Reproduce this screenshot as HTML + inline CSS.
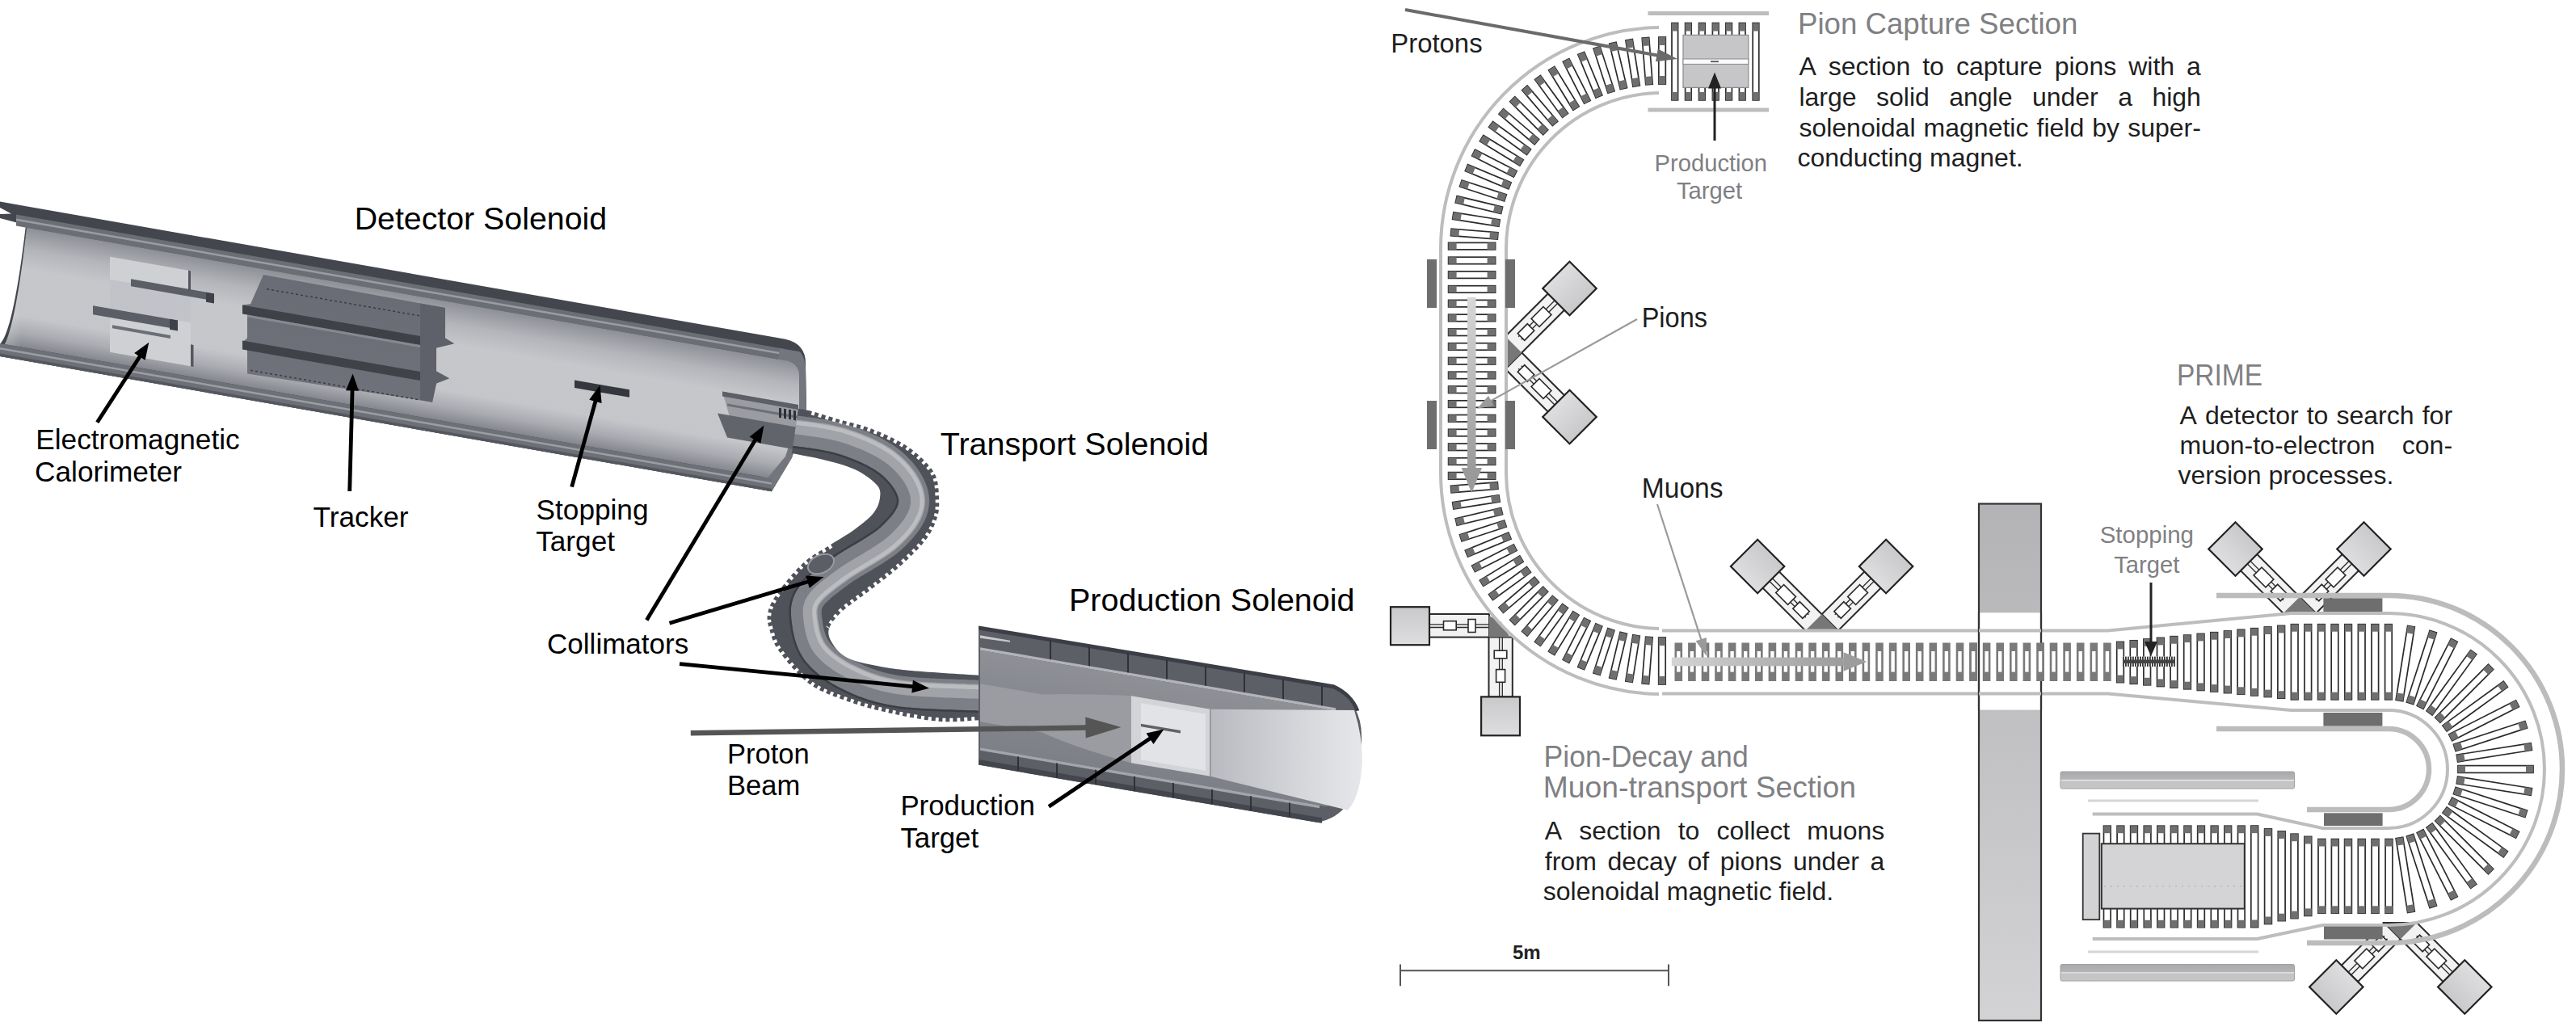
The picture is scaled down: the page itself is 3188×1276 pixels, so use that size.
<!DOCTYPE html>
<html><head><meta charset="utf-8"><style>
html,body{margin:0;padding:0;background:#fff;}
body{width:3188px;height:1276px;overflow:hidden;}
svg{display:block;font-family:"Liberation Sans",sans-serif;}
</style></head><body>
<svg width="3188" height="1276" viewBox="0 0 3188 1276">
<defs>
<linearGradient id="dia" x1="0" y1="0" x2="0" y2="1"><stop offset="0" stop-color="#c9c9cb"/><stop offset="1" stop-color="#dedee0"/></linearGradient>
<linearGradient id="col" gradientUnits="userSpaceOnUse" x1="0" y1="623" x2="0" y2="1263"><stop offset="0" stop-color="#b3b3b5"/><stop offset="1" stop-color="#d3d3d5"/></linearGradient>
<linearGradient id="parr" x1="0" y1="0" x2="0" y2="1"><stop offset="0" stop-color="#d8d8d8"/><stop offset="1" stop-color="#9a9a9a"/></linearGradient>
<linearGradient id="marr" x1="0" y1="0" x2="1" y2="0"><stop offset="0" stop-color="#d4d4d4"/><stop offset="1" stop-color="#9c9c9c"/></linearGradient>
<linearGradient id="bar" x1="0" y1="0" x2="0" y2="1"><stop offset="0" stop-color="#a9a9ab"/><stop offset="0.45" stop-color="#b5b5b7"/><stop offset="0.5" stop-color="#e8e8e8"/><stop offset="0.58" stop-color="#c3c3c5"/><stop offset="1" stop-color="#c6c6c8"/></linearGradient>

<linearGradient id="dsIn" x1="0" y1="0" x2="0" y2="1"><stop offset="0" stop-color="#8e9097"/><stop offset="0.18" stop-color="#b4b5ba"/><stop offset="0.35" stop-color="#c6c7cb"/><stop offset="0.74" stop-color="#c5c6ca"/><stop offset="0.88" stop-color="#aaabb1"/><stop offset="1" stop-color="#85878e"/></linearGradient>
<linearGradient id="dsL" x1="0" y1="0" x2="1" y2="0"><stop offset="0" stop-color="#ffffff" stop-opacity="0.25"/><stop offset="0.15" stop-color="#ffffff" stop-opacity="0"/><stop offset="1" stop-color="#ffffff" stop-opacity="0"/></linearGradient>
<linearGradient id="trk" x1="0" y1="0" x2="0" y2="1"><stop offset="0" stop-color="#6a6c75"/><stop offset="1" stop-color="#70727b"/></linearGradient>
<linearGradient id="psCone" x1="0" y1="0" x2="1" y2="0"><stop offset="0" stop-color="#b9babf"/><stop offset="0.6" stop-color="#d6d7db"/><stop offset="1" stop-color="#e6e7ea"/></linearGradient>
<linearGradient id="psIn" x1="0" y1="0" x2="0" y2="1"><stop offset="0" stop-color="#8e9096"/><stop offset="0.5" stop-color="#85878e"/><stop offset="1" stop-color="#7e8087"/></linearGradient>

<clipPath id="tsClip"><path d="M988,506 C990.8,506.5 996.7,506.8 1005,509 C1013.3,511.2 1026,515.5 1038,519 C1050,522.5 1064,525.2 1077,530 C1090,534.8 1105.3,541.8 1116,548 C1126.7,554.2 1134,560.2 1141,567 C1148,573.8 1154.5,580.8 1158,589 C1161.5,597.2 1161.7,607.5 1162,616 C1162.3,624.5 1162.7,631.3 1160,640 C1157.3,648.7 1153.5,658 1146,668 C1138.5,678 1126.8,689.3 1115,700 C1103.2,710.7 1087.2,722.5 1075,732 C1062.8,741.5 1050.2,749.3 1042,757 C1033.8,764.7 1028,771.5 1026,778 C1024,784.5 1026.3,790 1030,796 C1033.7,802 1038.8,809.3 1048,814 C1057.2,818.7 1071.7,821.3 1085,824 C1098.3,826.7 1106.3,828 1128,830 C1149.7,832 1200.5,835 1215,836 L1215,891 C1206.5,891.3 1182.7,894.3 1164,893 C1145.3,891.7 1122.7,887.3 1103,883 C1083.3,878.7 1063,873.2 1046,867 C1029,860.8 1014.7,856.2 1001,846 C987.3,835.8 972.2,817.3 964,806 C955.8,794.7 954.3,785.7 952,778 C949.7,770.3 949,766.3 950,760 C951,753.7 952.8,748.3 958,740 C963.2,731.7 973.7,718.3 981,710 C988.3,701.7 994.2,696 1002,690 C1009.8,684 1018.7,679.8 1028,674 C1037.3,668.2 1049.2,661.5 1058,655 C1066.8,648.5 1075.8,641.5 1081,635 C1086.2,628.5 1088.3,621.8 1089,616 C1089.7,610.2 1090.2,605.8 1085,600 C1079.8,594.2 1069,586.2 1058,581 C1047,575.8 1032,572.3 1019,569 C1006,565.7 986.5,562.3 980,561 Z"/></clipPath></defs>
<g transform="translate(2254.6 780.5) rotate(0)"><polygon points="20.3,0 -20.3,0 59.7,-80 100.3,-80" fill="#f2f2f2" stroke="#2b2b2b" stroke-width="2"/><line x1="16.2" y1="-19.8" x2="68.2" y2="-71.8" stroke="#2b2b2b" stroke-width="1.3"/><line x1="19.8" y1="-16.2" x2="71.8" y2="-68.2" stroke="#2b2b2b" stroke-width="1.3"/><rect x="17" y="-31.5" width="17" height="12" fill="#fff" stroke="#2b2b2b" stroke-width="1.6" transform="rotate(-45 25.5 -25.5)"/><rect x="34" y="-51.5" width="21" height="14" fill="#fff" stroke="#2b2b2b" stroke-width="1.6" transform="rotate(-45 44.5 -44.5)"/><polygon points="-20.3,0 20.3,0 -59.7,-80 -100.3,-80" fill="#f2f2f2" stroke="#2b2b2b" stroke-width="2"/><line x1="-19.8" y1="-16.2" x2="-71.8" y2="-68.2" stroke="#2b2b2b" stroke-width="1.3"/><line x1="-16.2" y1="-19.8" x2="-68.2" y2="-71.8" stroke="#2b2b2b" stroke-width="1.3"/><rect x="-34" y="-31.5" width="17" height="12" fill="#fff" stroke="#2b2b2b" stroke-width="1.6" transform="rotate(45 -25.5 -25.5)"/><rect x="-55" y="-51.5" width="21" height="14" fill="#fff" stroke="#2b2b2b" stroke-width="1.6" transform="rotate(45 -44.5 -44.5)"/><polygon points="-20.3,0 20.3,0 0,-20.3" fill="#777"/><line x1="-20.3" y1="0" x2="20.3" y2="0" stroke="#2b2b2b" stroke-width="2"/><rect x="56" y="-103" width="47" height="47" fill="url(#dia)" stroke="#222" stroke-width="2.2" transform="rotate(45 79.5 -79.5)"/><rect x="-103" y="-103" width="47" height="47" fill="url(#dia)" stroke="#222" stroke-width="2.2" transform="rotate(45 -79.5 -79.5)"/></g>
<g transform="translate(2846 759) rotate(0)"><polygon points="20.3,0 -20.3,0 59.7,-80 100.3,-80" fill="#f2f2f2" stroke="#2b2b2b" stroke-width="2"/><line x1="16.2" y1="-19.8" x2="68.2" y2="-71.8" stroke="#2b2b2b" stroke-width="1.3"/><line x1="19.8" y1="-16.2" x2="71.8" y2="-68.2" stroke="#2b2b2b" stroke-width="1.3"/><rect x="17" y="-31.5" width="17" height="12" fill="#fff" stroke="#2b2b2b" stroke-width="1.6" transform="rotate(-45 25.5 -25.5)"/><rect x="34" y="-51.5" width="21" height="14" fill="#fff" stroke="#2b2b2b" stroke-width="1.6" transform="rotate(-45 44.5 -44.5)"/><polygon points="-20.3,0 20.3,0 -59.7,-80 -100.3,-80" fill="#f2f2f2" stroke="#2b2b2b" stroke-width="2"/><line x1="-19.8" y1="-16.2" x2="-71.8" y2="-68.2" stroke="#2b2b2b" stroke-width="1.3"/><line x1="-16.2" y1="-19.8" x2="-68.2" y2="-71.8" stroke="#2b2b2b" stroke-width="1.3"/><rect x="-34" y="-31.5" width="17" height="12" fill="#fff" stroke="#2b2b2b" stroke-width="1.6" transform="rotate(45 -25.5 -25.5)"/><rect x="-55" y="-51.5" width="21" height="14" fill="#fff" stroke="#2b2b2b" stroke-width="1.6" transform="rotate(45 -44.5 -44.5)"/><polygon points="-20.3,0 20.3,0 0,-20.3" fill="#777"/><line x1="-20.3" y1="0" x2="20.3" y2="0" stroke="#2b2b2b" stroke-width="2"/><rect x="56" y="-103" width="47" height="47" fill="url(#dia)" stroke="#222" stroke-width="2.2" transform="rotate(45 79.5 -79.5)"/><rect x="-103" y="-103" width="47" height="47" fill="url(#dia)" stroke="#222" stroke-width="2.2" transform="rotate(45 -79.5 -79.5)"/></g>
<g transform="translate(2970.8 1142) rotate(180)"><polygon points="20.3,0 -20.3,0 59.7,-80 100.3,-80" fill="#f2f2f2" stroke="#2b2b2b" stroke-width="2"/><line x1="16.2" y1="-19.8" x2="68.2" y2="-71.8" stroke="#2b2b2b" stroke-width="1.3"/><line x1="19.8" y1="-16.2" x2="71.8" y2="-68.2" stroke="#2b2b2b" stroke-width="1.3"/><rect x="17" y="-31.5" width="17" height="12" fill="#fff" stroke="#2b2b2b" stroke-width="1.6" transform="rotate(-45 25.5 -25.5)"/><rect x="34" y="-51.5" width="21" height="14" fill="#fff" stroke="#2b2b2b" stroke-width="1.6" transform="rotate(-45 44.5 -44.5)"/><polygon points="-20.3,0 20.3,0 -59.7,-80 -100.3,-80" fill="#f2f2f2" stroke="#2b2b2b" stroke-width="2"/><line x1="-19.8" y1="-16.2" x2="-71.8" y2="-68.2" stroke="#2b2b2b" stroke-width="1.3"/><line x1="-16.2" y1="-19.8" x2="-68.2" y2="-71.8" stroke="#2b2b2b" stroke-width="1.3"/><rect x="-34" y="-31.5" width="17" height="12" fill="#fff" stroke="#2b2b2b" stroke-width="1.6" transform="rotate(45 -25.5 -25.5)"/><rect x="-55" y="-51.5" width="21" height="14" fill="#fff" stroke="#2b2b2b" stroke-width="1.6" transform="rotate(45 -44.5 -44.5)"/><polygon points="-20.3,0 20.3,0 0,-20.3" fill="#777"/><line x1="-20.3" y1="0" x2="20.3" y2="0" stroke="#2b2b2b" stroke-width="2"/><rect x="56" y="-103" width="47" height="47" fill="url(#dia)" stroke="#222" stroke-width="2.2" transform="rotate(45 79.5 -79.5)"/><rect x="-103" y="-103" width="47" height="47" fill="url(#dia)" stroke="#222" stroke-width="2.2" transform="rotate(45 -79.5 -79.5)"/></g>
<g transform="translate(1863 436.5) rotate(90)"><polygon points="20.3,0 -20.3,0 59.7,-80 100.3,-80" fill="#f2f2f2" stroke="#2b2b2b" stroke-width="2"/><line x1="16.2" y1="-19.8" x2="68.2" y2="-71.8" stroke="#2b2b2b" stroke-width="1.3"/><line x1="19.8" y1="-16.2" x2="71.8" y2="-68.2" stroke="#2b2b2b" stroke-width="1.3"/><rect x="17" y="-31.5" width="17" height="12" fill="#fff" stroke="#2b2b2b" stroke-width="1.6" transform="rotate(-45 25.5 -25.5)"/><rect x="34" y="-51.5" width="21" height="14" fill="#fff" stroke="#2b2b2b" stroke-width="1.6" transform="rotate(-45 44.5 -44.5)"/><polygon points="-20.3,0 20.3,0 -59.7,-80 -100.3,-80" fill="#f2f2f2" stroke="#2b2b2b" stroke-width="2"/><line x1="-19.8" y1="-16.2" x2="-71.8" y2="-68.2" stroke="#2b2b2b" stroke-width="1.3"/><line x1="-16.2" y1="-19.8" x2="-68.2" y2="-71.8" stroke="#2b2b2b" stroke-width="1.3"/><rect x="-34" y="-31.5" width="17" height="12" fill="#fff" stroke="#2b2b2b" stroke-width="1.6" transform="rotate(45 -25.5 -25.5)"/><rect x="-55" y="-51.5" width="21" height="14" fill="#fff" stroke="#2b2b2b" stroke-width="1.6" transform="rotate(45 -44.5 -44.5)"/><polygon points="-20.3,0 20.3,0 0,-20.3" fill="#777"/><line x1="-20.3" y1="0" x2="20.3" y2="0" stroke="#2b2b2b" stroke-width="2"/><rect x="56" y="-103" width="47" height="47" fill="url(#dia)" stroke="#222" stroke-width="2.2" transform="rotate(45 79.5 -79.5)"/><rect x="-103" y="-103" width="47" height="47" fill="url(#dia)" stroke="#222" stroke-width="2.2" transform="rotate(45 -79.5 -79.5)"/></g>
<rect x="1769" y="760" width="74" height="28.6" fill="#f2f2f2" stroke="#2b2b2b" stroke-width="2"/>
<rect x="1842.5" y="788.6" width="29.3" height="74" fill="#f2f2f2" stroke="#2b2b2b" stroke-width="2"/>
<line x1="1769" y1="772.8" x2="1843" y2="772.8" stroke="#2b2b2b" stroke-width="1.3"/><line x1="1769" y1="776.5" x2="1843" y2="776.5" stroke="#2b2b2b" stroke-width="1.3"/>
<line x1="1855.6" y1="788.6" x2="1855.6" y2="862.6" stroke="#2b2b2b" stroke-width="1.3"/><line x1="1859.3" y1="788.6" x2="1859.3" y2="862.6" stroke="#2b2b2b" stroke-width="1.3"/>
<rect x="1786.5" y="768.7" width="15.7" height="11.1" fill="#fff" stroke="#2b2b2b" stroke-width="1.6"/>
<rect x="1817" y="766.5" width="9" height="16" fill="#fff" stroke="#2b2b2b" stroke-width="1.6"/>
<rect x="1849.2" y="805.2" width="15.6" height="9.6" fill="#fff" stroke="#2b2b2b" stroke-width="1.6"/>
<rect x="1851.6" y="828.6" width="11" height="15.7" fill="#fff" stroke="#2b2b2b" stroke-width="1.6"/>
<polygon points="1842.7,762 1858,770 1868.5,788.6 1842.7,788.6" fill="#777"/>
<rect x="1721" y="751.2" width="48" height="47" fill="url(#dia)" stroke="#222" stroke-width="2.2"/>
<rect x="1833.1" y="862.4" width="47.9" height="47.9" fill="url(#dia)" stroke="#222" stroke-width="2.2"/>
<path d="M2053,34 A274,274 0 0 0 1783,308 L1783,585 A274,274 0 0 0 2053,859" fill="none" stroke="#bdbdbd" stroke-width="4"/>
<path d="M2053,115 A193,193 0 0 0 1864,308 L1864,585 A193,193 0 0 0 2053,778" fill="none" stroke="#bdbdbd" stroke-width="4"/>
<path d="M2057,780.5 L2608.5,780.5 L2835.5,759 L2956,759 A193,193 0 0 1 2956,1145 L2874.3,1145 L2793.7,1161.9 L2589.7,1161.9" fill="none" stroke="#bdbdbd" stroke-width="4"/>
<path d="M2057,858.5 L2608.5,858.5 L2835.5,879 L2956,879 A73,73 0 0 1 2956,1025 L2874.3,1025 L2793.7,1007.6 L2589.7,1007.6" fill="none" stroke="#bdbdbd" stroke-width="4"/>
<path d="M2743,737 L2956,737 A215,215 0 0 1 2956,1167 L2855,1167" fill="none" stroke="#bcbcbc" stroke-width="6.5"/>
<path d="M2743,902 L2956,902 A50,50 0 0 1 2956,1002 L2855,1002" fill="none" stroke="#bcbcbc" stroke-width="6.5"/>
<line x1="2039.5" y1="16.5" x2="2189" y2="16.5" stroke="#bdbdbd" stroke-width="5"/>
<line x1="2039.5" y1="136" x2="2189" y2="136" stroke="#bdbdbd" stroke-width="5"/>
<line x1="2584" y1="991" x2="2795" y2="991" stroke="#d6d6d6" stroke-width="3"/>
<line x1="2584" y1="1178" x2="2795" y2="1178" stroke="#d6d6d6" stroke-width="3"/>
<rect x="2550" y="955" width="289.5" height="21" rx="2" fill="url(#bar)" stroke="#a0a0a0" stroke-width="1"/>
<rect x="2550" y="1193.5" width="289.5" height="20.5" rx="2" fill="url(#bar)" stroke="#a0a0a0" stroke-width="1"/>
<rect x="1766" y="321" width="12" height="60" fill="#6e6e6e"/>
<rect x="1766" y="496" width="12" height="60" fill="#6e6e6e"/>
<rect x="1863" y="321" width="12" height="60" fill="#6e6e6e"/>
<rect x="1863" y="496" width="12" height="60" fill="#6e6e6e"/>
<rect x="2875.4" y="740.4" width="73" height="16.6" fill="#6e6e6e"/>
<rect x="2875.4" y="882" width="73" height="16.6" fill="#6e6e6e"/>
<rect x="2876" y="1006.3" width="72.6" height="15.7" fill="#6e6e6e"/>
<rect x="2876" y="1146.7" width="72.6" height="15.8" fill="#6e6e6e"/>
<g transform="translate(2057 75) rotate(-90)"><rect x="-29" y="-4.2" width="58" height="8.5" fill="#fff" stroke="#2b2b2b" stroke-width="1.7"/><rect x="-29" y="-4.2" width="10" height="8.5" fill="#6f6f6f"/><rect x="19" y="-4.2" width="10" height="8.5" fill="#6f6f6f"/></g>
<g transform="translate(2038.7 75.7) rotate(-94.5)"><rect x="-29" y="-4.2" width="58" height="8.5" fill="#fff" stroke="#2b2b2b" stroke-width="1.7"/><rect x="-29" y="-4.2" width="10" height="8.5" fill="#6f6f6f"/><rect x="19" y="-4.2" width="10" height="8.5" fill="#6f6f6f"/></g>
<g transform="translate(2020.6 77.9) rotate(-99)"><rect x="-29" y="-4.2" width="58" height="8.5" fill="#fff" stroke="#2b2b2b" stroke-width="1.7"/><rect x="-29" y="-4.2" width="10" height="8.5" fill="#6f6f6f"/><rect x="19" y="-4.2" width="10" height="8.5" fill="#6f6f6f"/></g>
<g transform="translate(2002.6 81.4) rotate(-103.5)"><rect x="-29" y="-4.2" width="58" height="8.5" fill="#fff" stroke="#2b2b2b" stroke-width="1.7"/><rect x="-29" y="-4.2" width="10" height="8.5" fill="#6f6f6f"/><rect x="19" y="-4.2" width="10" height="8.5" fill="#6f6f6f"/></g>
<g transform="translate(1985 86.4) rotate(-108)"><rect x="-29" y="-4.2" width="58" height="8.5" fill="#fff" stroke="#2b2b2b" stroke-width="1.7"/><rect x="-29" y="-4.2" width="10" height="8.5" fill="#6f6f6f"/><rect x="19" y="-4.2" width="10" height="8.5" fill="#6f6f6f"/></g>
<g transform="translate(1967.8 92.7) rotate(-112.5)"><rect x="-29" y="-4.2" width="58" height="8.5" fill="#fff" stroke="#2b2b2b" stroke-width="1.7"/><rect x="-29" y="-4.2" width="10" height="8.5" fill="#6f6f6f"/><rect x="19" y="-4.2" width="10" height="8.5" fill="#6f6f6f"/></g>
<g transform="translate(1951.2 100.4) rotate(-117)"><rect x="-29" y="-4.2" width="58" height="8.5" fill="#fff" stroke="#2b2b2b" stroke-width="1.7"/><rect x="-29" y="-4.2" width="10" height="8.5" fill="#6f6f6f"/><rect x="19" y="-4.2" width="10" height="8.5" fill="#6f6f6f"/></g>
<g transform="translate(1935.3 109.3) rotate(-121.5)"><rect x="-29" y="-4.2" width="58" height="8.5" fill="#fff" stroke="#2b2b2b" stroke-width="1.7"/><rect x="-29" y="-4.2" width="10" height="8.5" fill="#6f6f6f"/><rect x="19" y="-4.2" width="10" height="8.5" fill="#6f6f6f"/></g>
<g transform="translate(1920 119.5) rotate(-126)"><rect x="-29" y="-4.2" width="58" height="8.5" fill="#fff" stroke="#2b2b2b" stroke-width="1.7"/><rect x="-29" y="-4.2" width="10" height="8.5" fill="#6f6f6f"/><rect x="19" y="-4.2" width="10" height="8.5" fill="#6f6f6f"/></g>
<g transform="translate(1905.7 130.8) rotate(-130.5)"><rect x="-29" y="-4.2" width="58" height="8.5" fill="#fff" stroke="#2b2b2b" stroke-width="1.7"/><rect x="-29" y="-4.2" width="10" height="8.5" fill="#6f6f6f"/><rect x="19" y="-4.2" width="10" height="8.5" fill="#6f6f6f"/></g>
<g transform="translate(1892.2 143.2) rotate(-135)"><rect x="-29" y="-4.2" width="58" height="8.5" fill="#fff" stroke="#2b2b2b" stroke-width="1.7"/><rect x="-29" y="-4.2" width="10" height="8.5" fill="#6f6f6f"/><rect x="19" y="-4.2" width="10" height="8.5" fill="#6f6f6f"/></g>
<g transform="translate(1879.8 156.7) rotate(-139.5)"><rect x="-29" y="-4.2" width="58" height="8.5" fill="#fff" stroke="#2b2b2b" stroke-width="1.7"/><rect x="-29" y="-4.2" width="10" height="8.5" fill="#6f6f6f"/><rect x="19" y="-4.2" width="10" height="8.5" fill="#6f6f6f"/></g>
<g transform="translate(1868.5 171) rotate(-144)"><rect x="-29" y="-4.2" width="58" height="8.5" fill="#fff" stroke="#2b2b2b" stroke-width="1.7"/><rect x="-29" y="-4.2" width="10" height="8.5" fill="#6f6f6f"/><rect x="19" y="-4.2" width="10" height="8.5" fill="#6f6f6f"/></g>
<g transform="translate(1858.3 186.3) rotate(-148.5)"><rect x="-29" y="-4.2" width="58" height="8.5" fill="#fff" stroke="#2b2b2b" stroke-width="1.7"/><rect x="-29" y="-4.2" width="10" height="8.5" fill="#6f6f6f"/><rect x="19" y="-4.2" width="10" height="8.5" fill="#6f6f6f"/></g>
<g transform="translate(1849.4 202.2) rotate(-153)"><rect x="-29" y="-4.2" width="58" height="8.5" fill="#fff" stroke="#2b2b2b" stroke-width="1.7"/><rect x="-29" y="-4.2" width="10" height="8.5" fill="#6f6f6f"/><rect x="19" y="-4.2" width="10" height="8.5" fill="#6f6f6f"/></g>
<g transform="translate(1841.7 218.8) rotate(-157.5)"><rect x="-29" y="-4.2" width="58" height="8.5" fill="#fff" stroke="#2b2b2b" stroke-width="1.7"/><rect x="-29" y="-4.2" width="10" height="8.5" fill="#6f6f6f"/><rect x="19" y="-4.2" width="10" height="8.5" fill="#6f6f6f"/></g>
<g transform="translate(1835.4 236) rotate(-162)"><rect x="-29" y="-4.2" width="58" height="8.5" fill="#fff" stroke="#2b2b2b" stroke-width="1.7"/><rect x="-29" y="-4.2" width="10" height="8.5" fill="#6f6f6f"/><rect x="19" y="-4.2" width="10" height="8.5" fill="#6f6f6f"/></g>
<g transform="translate(1830.4 253.6) rotate(-166.5)"><rect x="-29" y="-4.2" width="58" height="8.5" fill="#fff" stroke="#2b2b2b" stroke-width="1.7"/><rect x="-29" y="-4.2" width="10" height="8.5" fill="#6f6f6f"/><rect x="19" y="-4.2" width="10" height="8.5" fill="#6f6f6f"/></g>
<g transform="translate(1826.9 271.6) rotate(-171)"><rect x="-29" y="-4.2" width="58" height="8.5" fill="#fff" stroke="#2b2b2b" stroke-width="1.7"/><rect x="-29" y="-4.2" width="10" height="8.5" fill="#6f6f6f"/><rect x="19" y="-4.2" width="10" height="8.5" fill="#6f6f6f"/></g>
<g transform="translate(1824.7 289.7) rotate(-175.5)"><rect x="-29" y="-4.2" width="58" height="8.5" fill="#fff" stroke="#2b2b2b" stroke-width="1.7"/><rect x="-29" y="-4.2" width="10" height="8.5" fill="#6f6f6f"/><rect x="19" y="-4.2" width="10" height="8.5" fill="#6f6f6f"/></g>
<g transform="translate(1821.6 304.7) rotate(180)"><rect x="-29" y="-4.2" width="58" height="8.5" fill="#fff" stroke="#2b2b2b" stroke-width="1.7"/><rect x="-29" y="-4.2" width="10" height="8.5" fill="#6f6f6f"/><rect x="19" y="-4.2" width="10" height="8.5" fill="#6f6f6f"/></g>
<g transform="translate(1821.6 322.5) rotate(180)"><rect x="-29" y="-4.2" width="58" height="8.5" fill="#fff" stroke="#2b2b2b" stroke-width="1.7"/><rect x="-29" y="-4.2" width="10" height="8.5" fill="#6f6f6f"/><rect x="19" y="-4.2" width="10" height="8.5" fill="#6f6f6f"/></g>
<g transform="translate(1821.6 340.2) rotate(180)"><rect x="-29" y="-4.2" width="58" height="8.5" fill="#fff" stroke="#2b2b2b" stroke-width="1.7"/><rect x="-29" y="-4.2" width="10" height="8.5" fill="#6f6f6f"/><rect x="19" y="-4.2" width="10" height="8.5" fill="#6f6f6f"/></g>
<g transform="translate(1821.6 358) rotate(180)"><rect x="-29" y="-4.2" width="58" height="8.5" fill="#fff" stroke="#2b2b2b" stroke-width="1.7"/><rect x="-29" y="-4.2" width="10" height="8.5" fill="#6f6f6f"/><rect x="19" y="-4.2" width="10" height="8.5" fill="#6f6f6f"/></g>
<g transform="translate(1821.6 375.7) rotate(180)"><rect x="-29" y="-4.2" width="58" height="8.5" fill="#fff" stroke="#2b2b2b" stroke-width="1.7"/><rect x="-29" y="-4.2" width="10" height="8.5" fill="#6f6f6f"/><rect x="19" y="-4.2" width="10" height="8.5" fill="#6f6f6f"/></g>
<g transform="translate(1821.6 393.5) rotate(180)"><rect x="-29" y="-4.2" width="58" height="8.5" fill="#fff" stroke="#2b2b2b" stroke-width="1.7"/><rect x="-29" y="-4.2" width="10" height="8.5" fill="#6f6f6f"/><rect x="19" y="-4.2" width="10" height="8.5" fill="#6f6f6f"/></g>
<g transform="translate(1821.6 411.3) rotate(180)"><rect x="-29" y="-4.2" width="58" height="8.5" fill="#fff" stroke="#2b2b2b" stroke-width="1.7"/><rect x="-29" y="-4.2" width="10" height="8.5" fill="#6f6f6f"/><rect x="19" y="-4.2" width="10" height="8.5" fill="#6f6f6f"/></g>
<g transform="translate(1821.6 429) rotate(180)"><rect x="-29" y="-4.2" width="58" height="8.5" fill="#fff" stroke="#2b2b2b" stroke-width="1.7"/><rect x="-29" y="-4.2" width="10" height="8.5" fill="#6f6f6f"/><rect x="19" y="-4.2" width="10" height="8.5" fill="#6f6f6f"/></g>
<g transform="translate(1821.6 446.8) rotate(180)"><rect x="-29" y="-4.2" width="58" height="8.5" fill="#fff" stroke="#2b2b2b" stroke-width="1.7"/><rect x="-29" y="-4.2" width="10" height="8.5" fill="#6f6f6f"/><rect x="19" y="-4.2" width="10" height="8.5" fill="#6f6f6f"/></g>
<g transform="translate(1821.6 464.5) rotate(180)"><rect x="-29" y="-4.2" width="58" height="8.5" fill="#fff" stroke="#2b2b2b" stroke-width="1.7"/><rect x="-29" y="-4.2" width="10" height="8.5" fill="#6f6f6f"/><rect x="19" y="-4.2" width="10" height="8.5" fill="#6f6f6f"/></g>
<g transform="translate(1821.6 482.3) rotate(180)"><rect x="-29" y="-4.2" width="58" height="8.5" fill="#fff" stroke="#2b2b2b" stroke-width="1.7"/><rect x="-29" y="-4.2" width="10" height="8.5" fill="#6f6f6f"/><rect x="19" y="-4.2" width="10" height="8.5" fill="#6f6f6f"/></g>
<g transform="translate(1821.6 500.1) rotate(180)"><rect x="-29" y="-4.2" width="58" height="8.5" fill="#fff" stroke="#2b2b2b" stroke-width="1.7"/><rect x="-29" y="-4.2" width="10" height="8.5" fill="#6f6f6f"/><rect x="19" y="-4.2" width="10" height="8.5" fill="#6f6f6f"/></g>
<g transform="translate(1821.6 517.8) rotate(180)"><rect x="-29" y="-4.2" width="58" height="8.5" fill="#fff" stroke="#2b2b2b" stroke-width="1.7"/><rect x="-29" y="-4.2" width="10" height="8.5" fill="#6f6f6f"/><rect x="19" y="-4.2" width="10" height="8.5" fill="#6f6f6f"/></g>
<g transform="translate(1821.6 535.6) rotate(180)"><rect x="-29" y="-4.2" width="58" height="8.5" fill="#fff" stroke="#2b2b2b" stroke-width="1.7"/><rect x="-29" y="-4.2" width="10" height="8.5" fill="#6f6f6f"/><rect x="19" y="-4.2" width="10" height="8.5" fill="#6f6f6f"/></g>
<g transform="translate(1821.6 553.3) rotate(180)"><rect x="-29" y="-4.2" width="58" height="8.5" fill="#fff" stroke="#2b2b2b" stroke-width="1.7"/><rect x="-29" y="-4.2" width="10" height="8.5" fill="#6f6f6f"/><rect x="19" y="-4.2" width="10" height="8.5" fill="#6f6f6f"/></g>
<g transform="translate(1821.6 571.1) rotate(180)"><rect x="-29" y="-4.2" width="58" height="8.5" fill="#fff" stroke="#2b2b2b" stroke-width="1.7"/><rect x="-29" y="-4.2" width="10" height="8.5" fill="#6f6f6f"/><rect x="19" y="-4.2" width="10" height="8.5" fill="#6f6f6f"/></g>
<g transform="translate(1821.6 588.9) rotate(180)"><rect x="-29" y="-4.2" width="58" height="8.5" fill="#fff" stroke="#2b2b2b" stroke-width="1.7"/><rect x="-29" y="-4.2" width="10" height="8.5" fill="#6f6f6f"/><rect x="19" y="-4.2" width="10" height="8.5" fill="#6f6f6f"/></g>
<g transform="translate(1824.7 603.3) rotate(175.5)"><rect x="-29" y="-4.2" width="58" height="8.5" fill="#fff" stroke="#2b2b2b" stroke-width="1.7"/><rect x="-29" y="-4.2" width="10" height="8.5" fill="#6f6f6f"/><rect x="19" y="-4.2" width="10" height="8.5" fill="#6f6f6f"/></g>
<g transform="translate(1826.9 621.4) rotate(171)"><rect x="-29" y="-4.2" width="58" height="8.5" fill="#fff" stroke="#2b2b2b" stroke-width="1.7"/><rect x="-29" y="-4.2" width="10" height="8.5" fill="#6f6f6f"/><rect x="19" y="-4.2" width="10" height="8.5" fill="#6f6f6f"/></g>
<g transform="translate(1830.4 639.4) rotate(166.5)"><rect x="-29" y="-4.2" width="58" height="8.5" fill="#fff" stroke="#2b2b2b" stroke-width="1.7"/><rect x="-29" y="-4.2" width="10" height="8.5" fill="#6f6f6f"/><rect x="19" y="-4.2" width="10" height="8.5" fill="#6f6f6f"/></g>
<g transform="translate(1835.4 657) rotate(162)"><rect x="-29" y="-4.2" width="58" height="8.5" fill="#fff" stroke="#2b2b2b" stroke-width="1.7"/><rect x="-29" y="-4.2" width="10" height="8.5" fill="#6f6f6f"/><rect x="19" y="-4.2" width="10" height="8.5" fill="#6f6f6f"/></g>
<g transform="translate(1841.7 674.2) rotate(157.5)"><rect x="-29" y="-4.2" width="58" height="8.5" fill="#fff" stroke="#2b2b2b" stroke-width="1.7"/><rect x="-29" y="-4.2" width="10" height="8.5" fill="#6f6f6f"/><rect x="19" y="-4.2" width="10" height="8.5" fill="#6f6f6f"/></g>
<g transform="translate(1849.4 690.8) rotate(153)"><rect x="-29" y="-4.2" width="58" height="8.5" fill="#fff" stroke="#2b2b2b" stroke-width="1.7"/><rect x="-29" y="-4.2" width="10" height="8.5" fill="#6f6f6f"/><rect x="19" y="-4.2" width="10" height="8.5" fill="#6f6f6f"/></g>
<g transform="translate(1858.3 706.7) rotate(148.5)"><rect x="-29" y="-4.2" width="58" height="8.5" fill="#fff" stroke="#2b2b2b" stroke-width="1.7"/><rect x="-29" y="-4.2" width="10" height="8.5" fill="#6f6f6f"/><rect x="19" y="-4.2" width="10" height="8.5" fill="#6f6f6f"/></g>
<g transform="translate(1868.5 722) rotate(144)"><rect x="-29" y="-4.2" width="58" height="8.5" fill="#fff" stroke="#2b2b2b" stroke-width="1.7"/><rect x="-29" y="-4.2" width="10" height="8.5" fill="#6f6f6f"/><rect x="19" y="-4.2" width="10" height="8.5" fill="#6f6f6f"/></g>
<g transform="translate(1879.8 736.3) rotate(139.5)"><rect x="-29" y="-4.2" width="58" height="8.5" fill="#fff" stroke="#2b2b2b" stroke-width="1.7"/><rect x="-29" y="-4.2" width="10" height="8.5" fill="#6f6f6f"/><rect x="19" y="-4.2" width="10" height="8.5" fill="#6f6f6f"/></g>
<g transform="translate(1892.2 749.8) rotate(135)"><rect x="-29" y="-4.2" width="58" height="8.5" fill="#fff" stroke="#2b2b2b" stroke-width="1.7"/><rect x="-29" y="-4.2" width="10" height="8.5" fill="#6f6f6f"/><rect x="19" y="-4.2" width="10" height="8.5" fill="#6f6f6f"/></g>
<g transform="translate(1905.7 762.2) rotate(130.5)"><rect x="-29" y="-4.2" width="58" height="8.5" fill="#fff" stroke="#2b2b2b" stroke-width="1.7"/><rect x="-29" y="-4.2" width="10" height="8.5" fill="#6f6f6f"/><rect x="19" y="-4.2" width="10" height="8.5" fill="#6f6f6f"/></g>
<g transform="translate(1920 773.5) rotate(126)"><rect x="-29" y="-4.2" width="58" height="8.5" fill="#fff" stroke="#2b2b2b" stroke-width="1.7"/><rect x="-29" y="-4.2" width="10" height="8.5" fill="#6f6f6f"/><rect x="19" y="-4.2" width="10" height="8.5" fill="#6f6f6f"/></g>
<g transform="translate(1935.3 783.7) rotate(121.5)"><rect x="-29" y="-4.2" width="58" height="8.5" fill="#fff" stroke="#2b2b2b" stroke-width="1.7"/><rect x="-29" y="-4.2" width="10" height="8.5" fill="#6f6f6f"/><rect x="19" y="-4.2" width="10" height="8.5" fill="#6f6f6f"/></g>
<g transform="translate(1951.2 792.6) rotate(117)"><rect x="-29" y="-4.2" width="58" height="8.5" fill="#fff" stroke="#2b2b2b" stroke-width="1.7"/><rect x="-29" y="-4.2" width="10" height="8.5" fill="#6f6f6f"/><rect x="19" y="-4.2" width="10" height="8.5" fill="#6f6f6f"/></g>
<g transform="translate(1967.8 800.3) rotate(112.5)"><rect x="-29" y="-4.2" width="58" height="8.5" fill="#fff" stroke="#2b2b2b" stroke-width="1.7"/><rect x="-29" y="-4.2" width="10" height="8.5" fill="#6f6f6f"/><rect x="19" y="-4.2" width="10" height="8.5" fill="#6f6f6f"/></g>
<g transform="translate(1985 806.6) rotate(108)"><rect x="-29" y="-4.2" width="58" height="8.5" fill="#fff" stroke="#2b2b2b" stroke-width="1.7"/><rect x="-29" y="-4.2" width="10" height="8.5" fill="#6f6f6f"/><rect x="19" y="-4.2" width="10" height="8.5" fill="#6f6f6f"/></g>
<g transform="translate(2002.6 811.6) rotate(103.5)"><rect x="-29" y="-4.2" width="58" height="8.5" fill="#fff" stroke="#2b2b2b" stroke-width="1.7"/><rect x="-29" y="-4.2" width="10" height="8.5" fill="#6f6f6f"/><rect x="19" y="-4.2" width="10" height="8.5" fill="#6f6f6f"/></g>
<g transform="translate(2020.6 815.1) rotate(99)"><rect x="-29" y="-4.2" width="58" height="8.5" fill="#fff" stroke="#2b2b2b" stroke-width="1.7"/><rect x="-29" y="-4.2" width="10" height="8.5" fill="#6f6f6f"/><rect x="19" y="-4.2" width="10" height="8.5" fill="#6f6f6f"/></g>
<g transform="translate(2038.7 817.3) rotate(94.5)"><rect x="-29" y="-4.2" width="58" height="8.5" fill="#fff" stroke="#2b2b2b" stroke-width="1.7"/><rect x="-29" y="-4.2" width="10" height="8.5" fill="#6f6f6f"/><rect x="19" y="-4.2" width="10" height="8.5" fill="#6f6f6f"/></g>
<g transform="translate(2057 818) rotate(90)"><rect x="-29" y="-4.2" width="58" height="8.5" fill="#fff" stroke="#2b2b2b" stroke-width="1.7"/><rect x="-29" y="-4.2" width="10" height="8.5" fill="#6f6f6f"/><rect x="19" y="-4.2" width="10" height="8.5" fill="#6f6f6f"/></g>
<g transform="translate(2072.8 76.2) rotate(90)"><rect x="-47.7" y="-3.8" width="95.4" height="7.6" fill="#fff" stroke="#2b2b2b" stroke-width="1.7"/><rect x="-47.7" y="-3.8" width="10" height="7.6" fill="#6f6f6f"/><rect x="37.7" y="-3.8" width="10" height="7.6" fill="#6f6f6f"/></g>
<g transform="translate(2089.4 76.2) rotate(90)"><rect x="-47.7" y="-3.8" width="95.4" height="7.6" fill="#fff" stroke="#2b2b2b" stroke-width="1.7"/><rect x="-47.7" y="-3.8" width="10" height="7.6" fill="#6f6f6f"/><rect x="37.7" y="-3.8" width="10" height="7.6" fill="#6f6f6f"/></g>
<g transform="translate(2106.3 76.2) rotate(90)"><rect x="-47.7" y="-3.8" width="95.4" height="7.6" fill="#fff" stroke="#2b2b2b" stroke-width="1.7"/><rect x="-47.7" y="-3.8" width="10" height="7.6" fill="#6f6f6f"/><rect x="37.7" y="-3.8" width="10" height="7.6" fill="#6f6f6f"/></g>
<g transform="translate(2123.2 76.2) rotate(90)"><rect x="-47.7" y="-3.8" width="95.4" height="7.6" fill="#fff" stroke="#2b2b2b" stroke-width="1.7"/><rect x="-47.7" y="-3.8" width="10" height="7.6" fill="#6f6f6f"/><rect x="37.7" y="-3.8" width="10" height="7.6" fill="#6f6f6f"/></g>
<g transform="translate(2139.6 76.2) rotate(90)"><rect x="-47.7" y="-3.8" width="95.4" height="7.6" fill="#fff" stroke="#2b2b2b" stroke-width="1.7"/><rect x="-47.7" y="-3.8" width="10" height="7.6" fill="#6f6f6f"/><rect x="37.7" y="-3.8" width="10" height="7.6" fill="#6f6f6f"/></g>
<g transform="translate(2156.2 76.2) rotate(90)"><rect x="-47.7" y="-3.8" width="95.4" height="7.6" fill="#fff" stroke="#2b2b2b" stroke-width="1.7"/><rect x="-47.7" y="-3.8" width="10" height="7.6" fill="#6f6f6f"/><rect x="37.7" y="-3.8" width="10" height="7.6" fill="#6f6f6f"/></g>
<g transform="translate(2173 76.2) rotate(90)"><rect x="-47.7" y="-3.8" width="95.4" height="7.6" fill="#fff" stroke="#2b2b2b" stroke-width="1.7"/><rect x="-47.7" y="-3.8" width="10" height="7.6" fill="#6f6f6f"/><rect x="37.7" y="-3.8" width="10" height="7.6" fill="#6f6f6f"/></g>
<rect x="2083" y="43.4" width="80.8" height="65" fill="#c6c6c8" stroke="#8a8a8a" stroke-width="1.2"/>
<rect x="2083" y="73" width="80.8" height="6.4" fill="#fafafa" stroke="#8a8a8a" stroke-width="1"/>
<rect x="2117" y="75.3" width="10" height="1.8" fill="#555"/>
<rect x="2072.5" y="795.5" width="9.6" height="47.5" fill="#7a7a7a"/>
<rect x="2075.1" y="806" width="4.4" height="25.6" fill="#fff"/>
<rect x="2089.1" y="795.5" width="9.6" height="47.5" fill="#7a7a7a"/>
<rect x="2091.7" y="806" width="4.4" height="25.6" fill="#fff"/>
<rect x="2105.7" y="795.5" width="9.6" height="47.5" fill="#7a7a7a"/>
<rect x="2108.3" y="806" width="4.4" height="25.6" fill="#fff"/>
<rect x="2122.2" y="795.5" width="9.6" height="47.5" fill="#7a7a7a"/>
<rect x="2124.8" y="806" width="4.4" height="25.6" fill="#fff"/>
<rect x="2138.8" y="795.5" width="9.6" height="47.5" fill="#7a7a7a"/>
<rect x="2141.4" y="806" width="4.4" height="25.6" fill="#fff"/>
<rect x="2155.4" y="795.5" width="9.6" height="47.5" fill="#7a7a7a"/>
<rect x="2158" y="806" width="4.4" height="25.6" fill="#fff"/>
<rect x="2172" y="795.5" width="9.6" height="47.5" fill="#7a7a7a"/>
<rect x="2174.6" y="806" width="4.4" height="25.6" fill="#fff"/>
<rect x="2188.6" y="795.5" width="9.6" height="47.5" fill="#7a7a7a"/>
<rect x="2191.2" y="806" width="4.4" height="25.6" fill="#fff"/>
<rect x="2205.1" y="795.5" width="9.6" height="47.5" fill="#7a7a7a"/>
<rect x="2207.7" y="806" width="4.4" height="25.6" fill="#fff"/>
<rect x="2221.7" y="795.5" width="9.6" height="47.5" fill="#7a7a7a"/>
<rect x="2224.3" y="806" width="4.4" height="25.6" fill="#fff"/>
<rect x="2238.3" y="795.5" width="9.6" height="47.5" fill="#7a7a7a"/>
<rect x="2240.9" y="806" width="4.4" height="25.6" fill="#fff"/>
<rect x="2254.9" y="795.5" width="9.6" height="47.5" fill="#7a7a7a"/>
<rect x="2257.5" y="806" width="4.4" height="25.6" fill="#fff"/>
<rect x="2271.5" y="795.5" width="9.6" height="47.5" fill="#7a7a7a"/>
<rect x="2274.1" y="806" width="4.4" height="25.6" fill="#fff"/>
<rect x="2288" y="795.5" width="9.6" height="47.5" fill="#7a7a7a"/>
<rect x="2290.6" y="806" width="4.4" height="25.6" fill="#fff"/>
<rect x="2304.6" y="795.5" width="9.6" height="47.5" fill="#7a7a7a"/>
<rect x="2307.2" y="806" width="4.4" height="25.6" fill="#fff"/>
<rect x="2321.2" y="795.5" width="9.6" height="47.5" fill="#7a7a7a"/>
<rect x="2323.8" y="806" width="4.4" height="25.6" fill="#fff"/>
<rect x="2337.8" y="795.5" width="9.6" height="47.5" fill="#7a7a7a"/>
<rect x="2340.4" y="806" width="4.4" height="25.6" fill="#fff"/>
<rect x="2354.4" y="795.5" width="9.6" height="47.5" fill="#7a7a7a"/>
<rect x="2357" y="806" width="4.4" height="25.6" fill="#fff"/>
<rect x="2370.9" y="795.5" width="9.6" height="47.5" fill="#7a7a7a"/>
<rect x="2373.5" y="806" width="4.4" height="25.6" fill="#fff"/>
<rect x="2387.5" y="795.5" width="9.6" height="47.5" fill="#7a7a7a"/>
<rect x="2390.1" y="806" width="4.4" height="25.6" fill="#fff"/>
<rect x="2404.1" y="795.5" width="9.6" height="47.5" fill="#7a7a7a"/>
<rect x="2406.7" y="806" width="4.4" height="25.6" fill="#fff"/>
<rect x="2420.7" y="795.5" width="9.6" height="47.5" fill="#7a7a7a"/>
<rect x="2423.3" y="806" width="4.4" height="25.6" fill="#fff"/>
<rect x="2437.3" y="795.5" width="9.6" height="47.5" fill="#7a7a7a"/>
<rect x="2439.9" y="806" width="4.4" height="25.6" fill="#fff"/>
<rect x="2453.8" y="795.5" width="9.6" height="47.5" fill="#7a7a7a"/>
<rect x="2456.4" y="806" width="4.4" height="25.6" fill="#fff"/>
<rect x="2470.4" y="795.5" width="9.6" height="47.5" fill="#7a7a7a"/>
<rect x="2473" y="806" width="4.4" height="25.6" fill="#fff"/>
<rect x="2487" y="795.5" width="9.6" height="47.5" fill="#7a7a7a"/>
<rect x="2489.6" y="806" width="4.4" height="25.6" fill="#fff"/>
<rect x="2503.6" y="795.5" width="9.6" height="47.5" fill="#7a7a7a"/>
<rect x="2506.2" y="806" width="4.4" height="25.6" fill="#fff"/>
<rect x="2520.2" y="795.5" width="9.6" height="47.5" fill="#7a7a7a"/>
<rect x="2522.8" y="806" width="4.4" height="25.6" fill="#fff"/>
<rect x="2536.7" y="795.5" width="9.6" height="47.5" fill="#7a7a7a"/>
<rect x="2539.3" y="806" width="4.4" height="25.6" fill="#fff"/>
<rect x="2553.3" y="795.5" width="9.6" height="47.5" fill="#7a7a7a"/>
<rect x="2555.9" y="806" width="4.4" height="25.6" fill="#fff"/>
<rect x="2569.9" y="795.5" width="9.6" height="47.5" fill="#7a7a7a"/>
<rect x="2572.5" y="806" width="4.4" height="25.6" fill="#fff"/>
<rect x="2586.5" y="795.5" width="9.6" height="47.5" fill="#7a7a7a"/>
<rect x="2589.1" y="806" width="4.4" height="25.6" fill="#fff"/>
<rect x="2603.1" y="795.5" width="9.6" height="47.5" fill="#7a7a7a"/>
<rect x="2605.7" y="806" width="4.4" height="25.6" fill="#fff"/>
<g transform="translate(2624 819.5) rotate(90)"><rect x="-25.1" y="-4.3" width="50.2" height="8.6" fill="#fff" stroke="#2b2b2b" stroke-width="1.7"/><rect x="-25.1" y="-4.3" width="9" height="8.6" fill="#6f6f6f"/><rect x="16.1" y="-4.3" width="9" height="8.6" fill="#6f6f6f"/></g>
<g transform="translate(2640.6 819.5) rotate(90)"><rect x="-26.7" y="-4.3" width="53.5" height="8.6" fill="#fff" stroke="#2b2b2b" stroke-width="1.7"/><rect x="-26.7" y="-4.3" width="9" height="8.6" fill="#6f6f6f"/><rect x="17.7" y="-4.3" width="9" height="8.6" fill="#6f6f6f"/></g>
<g transform="translate(2657.2 819.4) rotate(90)"><rect x="-28.4" y="-4.3" width="56.8" height="8.6" fill="#fff" stroke="#2b2b2b" stroke-width="1.7"/><rect x="-28.4" y="-4.3" width="9" height="8.6" fill="#6f6f6f"/><rect x="19.4" y="-4.3" width="9" height="8.6" fill="#6f6f6f"/></g>
<g transform="translate(2673.8 819.4) rotate(90)"><rect x="-30" y="-4.3" width="60.1" height="8.6" fill="#fff" stroke="#2b2b2b" stroke-width="1.7"/><rect x="-30" y="-4.3" width="9" height="8.6" fill="#6f6f6f"/><rect x="21" y="-4.3" width="9" height="8.6" fill="#6f6f6f"/></g>
<g transform="translate(2690.4 819.4) rotate(90)"><rect x="-31.7" y="-4.3" width="63.4" height="8.6" fill="#fff" stroke="#2b2b2b" stroke-width="1.7"/><rect x="-31.7" y="-4.3" width="9" height="8.6" fill="#6f6f6f"/><rect x="22.7" y="-4.3" width="9" height="8.6" fill="#6f6f6f"/></g>
<g transform="translate(2707 819.4) rotate(90)"><rect x="-33.3" y="-4.3" width="66.7" height="8.6" fill="#fff" stroke="#2b2b2b" stroke-width="1.7"/><rect x="-33.3" y="-4.3" width="9" height="8.6" fill="#6f6f6f"/><rect x="24.3" y="-4.3" width="9" height="8.6" fill="#6f6f6f"/></g>
<g transform="translate(2723.6 819.4) rotate(90)"><rect x="-35" y="-4.3" width="70" height="8.6" fill="#fff" stroke="#2b2b2b" stroke-width="1.7"/><rect x="-35" y="-4.3" width="9" height="8.6" fill="#6f6f6f"/><rect x="26" y="-4.3" width="9" height="8.6" fill="#6f6f6f"/></g>
<g transform="translate(2740.2 819.4) rotate(90)"><rect x="-36.7" y="-4.3" width="73.3" height="8.6" fill="#fff" stroke="#2b2b2b" stroke-width="1.7"/><rect x="-36.7" y="-4.3" width="9" height="8.6" fill="#6f6f6f"/><rect x="27.7" y="-4.3" width="9" height="8.6" fill="#6f6f6f"/></g>
<g transform="translate(2756.8 819.3) rotate(90)"><rect x="-38.3" y="-4.3" width="76.6" height="8.6" fill="#fff" stroke="#2b2b2b" stroke-width="1.7"/><rect x="-38.3" y="-4.3" width="9" height="8.6" fill="#6f6f6f"/><rect x="29.3" y="-4.3" width="9" height="8.6" fill="#6f6f6f"/></g>
<g transform="translate(2773.4 819.3) rotate(90)"><rect x="-40" y="-4.3" width="79.9" height="8.6" fill="#fff" stroke="#2b2b2b" stroke-width="1.7"/><rect x="-40" y="-4.3" width="9" height="8.6" fill="#6f6f6f"/><rect x="31" y="-4.3" width="9" height="8.6" fill="#6f6f6f"/></g>
<g transform="translate(2790 819.3) rotate(90)"><rect x="-41.6" y="-4.3" width="83.2" height="8.6" fill="#fff" stroke="#2b2b2b" stroke-width="1.7"/><rect x="-41.6" y="-4.3" width="9" height="8.6" fill="#6f6f6f"/><rect x="32.6" y="-4.3" width="9" height="8.6" fill="#6f6f6f"/></g>
<g transform="translate(2806.6 819.3) rotate(90)"><rect x="-43.3" y="-4.3" width="86.5" height="8.6" fill="#fff" stroke="#2b2b2b" stroke-width="1.7"/><rect x="-43.3" y="-4.3" width="9" height="8.6" fill="#6f6f6f"/><rect x="34.3" y="-4.3" width="9" height="8.6" fill="#6f6f6f"/></g>
<g transform="translate(2823.2 819.3) rotate(90)"><rect x="-44.9" y="-4.3" width="89.8" height="8.6" fill="#fff" stroke="#2b2b2b" stroke-width="1.7"/><rect x="-44.9" y="-4.3" width="9" height="8.6" fill="#6f6f6f"/><rect x="35.9" y="-4.3" width="9" height="8.6" fill="#6f6f6f"/></g>
<g transform="translate(2839.7 819.2) rotate(90)"><rect x="-46.5" y="-4.3" width="93.1" height="8.6" fill="#fff" stroke="#2b2b2b" stroke-width="1.7"/><rect x="-46.5" y="-4.3" width="9" height="8.6" fill="#6f6f6f"/><rect x="37.5" y="-4.3" width="9" height="8.6" fill="#6f6f6f"/></g>
<g transform="translate(2856.3 819.2) rotate(90)"><rect x="-46.5" y="-4.3" width="93.1" height="8.6" fill="#fff" stroke="#2b2b2b" stroke-width="1.7"/><rect x="-46.5" y="-4.3" width="9" height="8.6" fill="#6f6f6f"/><rect x="37.5" y="-4.3" width="9" height="8.6" fill="#6f6f6f"/></g>
<g transform="translate(2872.9 819.2) rotate(90)"><rect x="-46.5" y="-4.3" width="93.1" height="8.6" fill="#fff" stroke="#2b2b2b" stroke-width="1.7"/><rect x="-46.5" y="-4.3" width="9" height="8.6" fill="#6f6f6f"/><rect x="37.5" y="-4.3" width="9" height="8.6" fill="#6f6f6f"/></g>
<g transform="translate(2889.5 819.2) rotate(90)"><rect x="-46.5" y="-4.3" width="93.1" height="8.6" fill="#fff" stroke="#2b2b2b" stroke-width="1.7"/><rect x="-46.5" y="-4.3" width="9" height="8.6" fill="#6f6f6f"/><rect x="37.5" y="-4.3" width="9" height="8.6" fill="#6f6f6f"/></g>
<g transform="translate(2906.1 819.2) rotate(90)"><rect x="-46.5" y="-4.3" width="93.1" height="8.6" fill="#fff" stroke="#2b2b2b" stroke-width="1.7"/><rect x="-46.5" y="-4.3" width="9" height="8.6" fill="#6f6f6f"/><rect x="37.5" y="-4.3" width="9" height="8.6" fill="#6f6f6f"/></g>
<g transform="translate(2922.7 819.2) rotate(90)"><rect x="-46.5" y="-4.3" width="93.1" height="8.6" fill="#fff" stroke="#2b2b2b" stroke-width="1.7"/><rect x="-46.5" y="-4.3" width="9" height="8.6" fill="#6f6f6f"/><rect x="37.5" y="-4.3" width="9" height="8.6" fill="#6f6f6f"/></g>
<g transform="translate(2939.3 819.2) rotate(90)"><rect x="-46.5" y="-4.3" width="93.1" height="8.6" fill="#fff" stroke="#2b2b2b" stroke-width="1.7"/><rect x="-46.5" y="-4.3" width="9" height="8.6" fill="#6f6f6f"/><rect x="37.5" y="-4.3" width="9" height="8.6" fill="#6f6f6f"/></g>
<g transform="translate(2955.9 819.2) rotate(90)"><rect x="-46.5" y="-4.3" width="93.1" height="8.6" fill="#fff" stroke="#2b2b2b" stroke-width="1.7"/><rect x="-46.5" y="-4.3" width="9" height="8.6" fill="#6f6f6f"/><rect x="37.5" y="-4.3" width="9" height="8.6" fill="#6f6f6f"/></g>
<g transform="translate(2976.7 821.1) rotate(-81)"><rect x="-46.5" y="-4.4" width="93" height="8.8" fill="#fff" stroke="#2b2b2b" stroke-width="1.7"/><rect x="-46.5" y="-4.4" width="9" height="8.8" fill="#6f6f6f"/><rect x="37.5" y="-4.4" width="9" height="8.8" fill="#6f6f6f"/></g>
<g transform="translate(2996.9 826) rotate(-72)"><rect x="-46.5" y="-4.4" width="93" height="8.8" fill="#fff" stroke="#2b2b2b" stroke-width="1.7"/><rect x="-46.5" y="-4.4" width="9" height="8.8" fill="#6f6f6f"/><rect x="37.5" y="-4.4" width="9" height="8.8" fill="#6f6f6f"/></g>
<g transform="translate(3016.2 833.9) rotate(-63)"><rect x="-46.5" y="-4.4" width="93" height="8.8" fill="#fff" stroke="#2b2b2b" stroke-width="1.7"/><rect x="-46.5" y="-4.4" width="9" height="8.8" fill="#6f6f6f"/><rect x="37.5" y="-4.4" width="9" height="8.8" fill="#6f6f6f"/></g>
<g transform="translate(3033.9 844.8) rotate(-54)"><rect x="-46.5" y="-4.4" width="93" height="8.8" fill="#fff" stroke="#2b2b2b" stroke-width="1.7"/><rect x="-46.5" y="-4.4" width="9" height="8.8" fill="#6f6f6f"/><rect x="37.5" y="-4.4" width="9" height="8.8" fill="#6f6f6f"/></g>
<g transform="translate(3049.7 858.3) rotate(-45)"><rect x="-46.5" y="-4.4" width="93" height="8.8" fill="#fff" stroke="#2b2b2b" stroke-width="1.7"/><rect x="-46.5" y="-4.4" width="9" height="8.8" fill="#6f6f6f"/><rect x="37.5" y="-4.4" width="9" height="8.8" fill="#6f6f6f"/></g>
<g transform="translate(3063.2 874.1) rotate(-36)"><rect x="-46.5" y="-4.4" width="93" height="8.8" fill="#fff" stroke="#2b2b2b" stroke-width="1.7"/><rect x="-46.5" y="-4.4" width="9" height="8.8" fill="#6f6f6f"/><rect x="37.5" y="-4.4" width="9" height="8.8" fill="#6f6f6f"/></g>
<g transform="translate(3074.1 891.8) rotate(-27)"><rect x="-46.5" y="-4.4" width="93" height="8.8" fill="#fff" stroke="#2b2b2b" stroke-width="1.7"/><rect x="-46.5" y="-4.4" width="9" height="8.8" fill="#6f6f6f"/><rect x="37.5" y="-4.4" width="9" height="8.8" fill="#6f6f6f"/></g>
<g transform="translate(3082 911.1) rotate(-18)"><rect x="-46.5" y="-4.4" width="93" height="8.8" fill="#fff" stroke="#2b2b2b" stroke-width="1.7"/><rect x="-46.5" y="-4.4" width="9" height="8.8" fill="#6f6f6f"/><rect x="37.5" y="-4.4" width="9" height="8.8" fill="#6f6f6f"/></g>
<g transform="translate(3086.9 931.3) rotate(-9)"><rect x="-46.5" y="-4.4" width="93" height="8.8" fill="#fff" stroke="#2b2b2b" stroke-width="1.7"/><rect x="-46.5" y="-4.4" width="9" height="8.8" fill="#6f6f6f"/><rect x="37.5" y="-4.4" width="9" height="8.8" fill="#6f6f6f"/></g>
<g transform="translate(3088.5 952) rotate(0)"><rect x="-46.5" y="-4.4" width="93" height="8.8" fill="#fff" stroke="#2b2b2b" stroke-width="1.7"/><rect x="-46.5" y="-4.4" width="9" height="8.8" fill="#6f6f6f"/><rect x="37.5" y="-4.4" width="9" height="8.8" fill="#6f6f6f"/></g>
<g transform="translate(3086.9 972.7) rotate(9)"><rect x="-46.5" y="-4.4" width="93" height="8.8" fill="#fff" stroke="#2b2b2b" stroke-width="1.7"/><rect x="-46.5" y="-4.4" width="9" height="8.8" fill="#6f6f6f"/><rect x="37.5" y="-4.4" width="9" height="8.8" fill="#6f6f6f"/></g>
<g transform="translate(3082 992.9) rotate(18)"><rect x="-46.5" y="-4.4" width="93" height="8.8" fill="#fff" stroke="#2b2b2b" stroke-width="1.7"/><rect x="-46.5" y="-4.4" width="9" height="8.8" fill="#6f6f6f"/><rect x="37.5" y="-4.4" width="9" height="8.8" fill="#6f6f6f"/></g>
<g transform="translate(3074.1 1012.2) rotate(27)"><rect x="-46.5" y="-4.4" width="93" height="8.8" fill="#fff" stroke="#2b2b2b" stroke-width="1.7"/><rect x="-46.5" y="-4.4" width="9" height="8.8" fill="#6f6f6f"/><rect x="37.5" y="-4.4" width="9" height="8.8" fill="#6f6f6f"/></g>
<g transform="translate(3063.2 1029.9) rotate(36)"><rect x="-46.5" y="-4.4" width="93" height="8.8" fill="#fff" stroke="#2b2b2b" stroke-width="1.7"/><rect x="-46.5" y="-4.4" width="9" height="8.8" fill="#6f6f6f"/><rect x="37.5" y="-4.4" width="9" height="8.8" fill="#6f6f6f"/></g>
<g transform="translate(3049.7 1045.7) rotate(45)"><rect x="-46.5" y="-4.4" width="93" height="8.8" fill="#fff" stroke="#2b2b2b" stroke-width="1.7"/><rect x="-46.5" y="-4.4" width="9" height="8.8" fill="#6f6f6f"/><rect x="37.5" y="-4.4" width="9" height="8.8" fill="#6f6f6f"/></g>
<g transform="translate(3033.9 1059.2) rotate(54)"><rect x="-46.5" y="-4.4" width="93" height="8.8" fill="#fff" stroke="#2b2b2b" stroke-width="1.7"/><rect x="-46.5" y="-4.4" width="9" height="8.8" fill="#6f6f6f"/><rect x="37.5" y="-4.4" width="9" height="8.8" fill="#6f6f6f"/></g>
<g transform="translate(3016.2 1070.1) rotate(63)"><rect x="-46.5" y="-4.4" width="93" height="8.8" fill="#fff" stroke="#2b2b2b" stroke-width="1.7"/><rect x="-46.5" y="-4.4" width="9" height="8.8" fill="#6f6f6f"/><rect x="37.5" y="-4.4" width="9" height="8.8" fill="#6f6f6f"/></g>
<g transform="translate(2996.9 1078) rotate(72)"><rect x="-46.5" y="-4.4" width="93" height="8.8" fill="#fff" stroke="#2b2b2b" stroke-width="1.7"/><rect x="-46.5" y="-4.4" width="9" height="8.8" fill="#6f6f6f"/><rect x="37.5" y="-4.4" width="9" height="8.8" fill="#6f6f6f"/></g>
<g transform="translate(2976.7 1082.9) rotate(81)"><rect x="-46.5" y="-4.4" width="93" height="8.8" fill="#fff" stroke="#2b2b2b" stroke-width="1.7"/><rect x="-46.5" y="-4.4" width="9" height="8.8" fill="#6f6f6f"/><rect x="37.5" y="-4.4" width="9" height="8.8" fill="#6f6f6f"/></g>
<g transform="translate(2956.5 1084.4) rotate(90)"><rect x="-45.9" y="-4.4" width="91.7" height="8.8" fill="#fff" stroke="#2b2b2b" stroke-width="1.7"/><rect x="-45.9" y="-4.4" width="9" height="8.8" fill="#6f6f6f"/><rect x="36.9" y="-4.4" width="9" height="8.8" fill="#6f6f6f"/></g>
<g transform="translate(2939.5 1084.4) rotate(90)"><rect x="-45.9" y="-4.4" width="91.7" height="8.8" fill="#fff" stroke="#2b2b2b" stroke-width="1.7"/><rect x="-45.9" y="-4.4" width="9" height="8.8" fill="#6f6f6f"/><rect x="36.9" y="-4.4" width="9" height="8.8" fill="#6f6f6f"/></g>
<g transform="translate(2922.7 1084.4) rotate(90)"><rect x="-45.9" y="-4.4" width="91.7" height="8.8" fill="#fff" stroke="#2b2b2b" stroke-width="1.7"/><rect x="-45.9" y="-4.4" width="9" height="8.8" fill="#6f6f6f"/><rect x="36.9" y="-4.4" width="9" height="8.8" fill="#6f6f6f"/></g>
<g transform="translate(2906 1084.4) rotate(90)"><rect x="-45.9" y="-4.4" width="91.7" height="8.8" fill="#fff" stroke="#2b2b2b" stroke-width="1.7"/><rect x="-45.9" y="-4.4" width="9" height="8.8" fill="#6f6f6f"/><rect x="36.9" y="-4.4" width="9" height="8.8" fill="#6f6f6f"/></g>
<g transform="translate(2889.8 1084.4) rotate(90)"><rect x="-45.9" y="-4.4" width="91.7" height="8.8" fill="#fff" stroke="#2b2b2b" stroke-width="1.7"/><rect x="-45.9" y="-4.4" width="9" height="8.8" fill="#6f6f6f"/><rect x="36.9" y="-4.4" width="9" height="8.8" fill="#6f6f6f"/></g>
<g transform="translate(2873.4 1084.4) rotate(90)"><rect x="-45.9" y="-4.4" width="91.7" height="8.8" fill="#fff" stroke="#2b2b2b" stroke-width="1.7"/><rect x="-45.9" y="-4.4" width="9" height="8.8" fill="#6f6f6f"/><rect x="36.9" y="-4.4" width="9" height="8.8" fill="#6f6f6f"/></g>
<g transform="translate(2856.3 1084.4) rotate(90)"><rect x="-49" y="-4.4" width="98" height="8.8" fill="#fff" stroke="#2b2b2b" stroke-width="1.7"/><rect x="-49" y="-4.4" width="9" height="8.8" fill="#6f6f6f"/><rect x="40" y="-4.4" width="9" height="8.8" fill="#6f6f6f"/></g>
<g transform="translate(2839.5 1084.4) rotate(90)"><rect x="-52.2" y="-4.4" width="104.4" height="8.8" fill="#fff" stroke="#2b2b2b" stroke-width="1.7"/><rect x="-52.2" y="-4.4" width="9" height="8.8" fill="#6f6f6f"/><rect x="43.2" y="-4.4" width="9" height="8.8" fill="#6f6f6f"/></g>
<g transform="translate(2823.7 1084.3) rotate(90)"><rect x="-55.4" y="-4.4" width="110.7" height="8.8" fill="#fff" stroke="#2b2b2b" stroke-width="1.7"/><rect x="-55.4" y="-4.4" width="9" height="8.8" fill="#6f6f6f"/><rect x="46.4" y="-4.4" width="9" height="8.8" fill="#6f6f6f"/></g>
<g transform="translate(2807 1084.7) rotate(90)"><rect x="-58.8" y="-4.4" width="117.6" height="8.8" fill="#fff" stroke="#2b2b2b" stroke-width="1.7"/><rect x="-58.8" y="-4.4" width="9" height="8.8" fill="#6f6f6f"/><rect x="49.8" y="-4.4" width="9" height="8.8" fill="#6f6f6f"/></g>
<g transform="translate(2790.2 1084.8) rotate(90)"><rect x="-62.7" y="-4.4" width="125.5" height="8.8" fill="#fff" stroke="#2b2b2b" stroke-width="1.7"/><rect x="-62.7" y="-4.4" width="9" height="8.8" fill="#6f6f6f"/><rect x="53.7" y="-4.4" width="9" height="8.8" fill="#6f6f6f"/></g>
<g transform="translate(2607.8 1085) rotate(90)"><rect x="-62.8" y="-4.3" width="125.5" height="8.6" fill="#fff" stroke="#2b2b2b" stroke-width="1.7"/><rect x="-62.8" y="-4.3" width="9" height="8.6" fill="#6f6f6f"/><rect x="53.8" y="-4.3" width="9" height="8.6" fill="#6f6f6f"/></g>
<g transform="translate(2624.4 1085) rotate(90)"><rect x="-62.8" y="-4.3" width="125.5" height="8.6" fill="#fff" stroke="#2b2b2b" stroke-width="1.7"/><rect x="-62.8" y="-4.3" width="9" height="8.6" fill="#6f6f6f"/><rect x="53.8" y="-4.3" width="9" height="8.6" fill="#6f6f6f"/></g>
<g transform="translate(2641 1085) rotate(90)"><rect x="-62.8" y="-4.3" width="125.5" height="8.6" fill="#fff" stroke="#2b2b2b" stroke-width="1.7"/><rect x="-62.8" y="-4.3" width="9" height="8.6" fill="#6f6f6f"/><rect x="53.8" y="-4.3" width="9" height="8.6" fill="#6f6f6f"/></g>
<g transform="translate(2657.6 1085) rotate(90)"><rect x="-62.8" y="-4.3" width="125.5" height="8.6" fill="#fff" stroke="#2b2b2b" stroke-width="1.7"/><rect x="-62.8" y="-4.3" width="9" height="8.6" fill="#6f6f6f"/><rect x="53.8" y="-4.3" width="9" height="8.6" fill="#6f6f6f"/></g>
<g transform="translate(2674.2 1085) rotate(90)"><rect x="-62.8" y="-4.3" width="125.5" height="8.6" fill="#fff" stroke="#2b2b2b" stroke-width="1.7"/><rect x="-62.8" y="-4.3" width="9" height="8.6" fill="#6f6f6f"/><rect x="53.8" y="-4.3" width="9" height="8.6" fill="#6f6f6f"/></g>
<g transform="translate(2690.8 1085) rotate(90)"><rect x="-62.8" y="-4.3" width="125.5" height="8.6" fill="#fff" stroke="#2b2b2b" stroke-width="1.7"/><rect x="-62.8" y="-4.3" width="9" height="8.6" fill="#6f6f6f"/><rect x="53.8" y="-4.3" width="9" height="8.6" fill="#6f6f6f"/></g>
<g transform="translate(2707.4 1085) rotate(90)"><rect x="-62.8" y="-4.3" width="125.5" height="8.6" fill="#fff" stroke="#2b2b2b" stroke-width="1.7"/><rect x="-62.8" y="-4.3" width="9" height="8.6" fill="#6f6f6f"/><rect x="53.8" y="-4.3" width="9" height="8.6" fill="#6f6f6f"/></g>
<g transform="translate(2724 1085) rotate(90)"><rect x="-62.8" y="-4.3" width="125.5" height="8.6" fill="#fff" stroke="#2b2b2b" stroke-width="1.7"/><rect x="-62.8" y="-4.3" width="9" height="8.6" fill="#6f6f6f"/><rect x="53.8" y="-4.3" width="9" height="8.6" fill="#6f6f6f"/></g>
<g transform="translate(2740.6 1085) rotate(90)"><rect x="-62.8" y="-4.3" width="125.5" height="8.6" fill="#fff" stroke="#2b2b2b" stroke-width="1.7"/><rect x="-62.8" y="-4.3" width="9" height="8.6" fill="#6f6f6f"/><rect x="53.8" y="-4.3" width="9" height="8.6" fill="#6f6f6f"/></g>
<g transform="translate(2757.2 1085) rotate(90)"><rect x="-62.8" y="-4.3" width="125.5" height="8.6" fill="#fff" stroke="#2b2b2b" stroke-width="1.7"/><rect x="-62.8" y="-4.3" width="9" height="8.6" fill="#6f6f6f"/><rect x="53.8" y="-4.3" width="9" height="8.6" fill="#6f6f6f"/></g>
<g transform="translate(2773.8 1085) rotate(90)"><rect x="-62.8" y="-4.3" width="125.5" height="8.6" fill="#fff" stroke="#2b2b2b" stroke-width="1.7"/><rect x="-62.8" y="-4.3" width="9" height="8.6" fill="#6f6f6f"/><rect x="53.8" y="-4.3" width="9" height="8.6" fill="#6f6f6f"/></g>
<rect x="2577.7" y="1031.6" width="20.6" height="106.6" fill="#d2d2d4" stroke="#333" stroke-width="1.8"/>
<rect x="2600.8" y="1044.2" width="177" height="80.4" fill="#d4d4d6" stroke="#333" stroke-width="2"/>
<line x1="2604" y1="1097" x2="2775" y2="1097" stroke="#aaa" stroke-width="1.2" stroke-dasharray="2,6"/>
<rect x="2449" y="623.5" width="77" height="639.5" fill="url(#col)" stroke="#333" stroke-width="2.2"/>
<rect x="2450.2" y="758.3" width="74.6" height="120.3" fill="#fff"/>
<line x1="2449" y1="758.3" x2="2449" y2="878.6" stroke="#333" stroke-width="2.2"/>
<line x1="2526" y1="758.3" x2="2526" y2="878.6" stroke="#333" stroke-width="2.2"/>
<line x1="2449" y1="780.5" x2="2526" y2="780.5" stroke="#bdbdbd" stroke-width="4"/>
<line x1="2449" y1="858.5" x2="2526" y2="858.5" stroke="#bdbdbd" stroke-width="4"/>
<rect x="2437.3" y="795.5" width="9.6" height="47.5" fill="#7a7a7a"/>
<rect x="2439.9" y="806" width="4.4" height="25.6" fill="#fff"/>
<rect x="2453.8" y="795.5" width="9.6" height="47.5" fill="#7a7a7a"/>
<rect x="2456.4" y="806" width="4.4" height="25.6" fill="#fff"/>
<rect x="2470.4" y="795.5" width="9.6" height="47.5" fill="#7a7a7a"/>
<rect x="2473" y="806" width="4.4" height="25.6" fill="#fff"/>
<rect x="2487" y="795.5" width="9.6" height="47.5" fill="#7a7a7a"/>
<rect x="2489.6" y="806" width="4.4" height="25.6" fill="#fff"/>
<rect x="2503.6" y="795.5" width="9.6" height="47.5" fill="#7a7a7a"/>
<rect x="2506.2" y="806" width="4.4" height="25.6" fill="#fff"/>
<rect x="2520.2" y="795.5" width="9.6" height="47.5" fill="#7a7a7a"/>
<rect x="2522.8" y="806" width="4.4" height="25.6" fill="#fff"/>
<rect x="1816" y="368" width="10.5" height="214" fill="url(#parr)"/>
<polygon points="1808.6,579 1834,579 1821.3,610" fill="#9a9a9a"/>
<rect x="2068.8" y="813.6" width="213" height="10.7" fill="url(#marr)"/>
<polygon points="2281.5,807.2 2281.5,830.7 2310.3,819" fill="#9c9c9c"/>
<line x1="1739" y1="12" x2="2052.4" y2="68.7" stroke="#6a6a6a" stroke-width="4"/>
<polygon points="2076,73 2049,76.2 2051.8,60.5" fill="#6a6a6a"/>
<line x1="2122" y1="174" x2="2122" y2="107.5" stroke="#222" stroke-width="3"/>
<polygon points="2122,89.5 2130,109.5 2114,109.5" fill="#222"/>
<line x1="2026" y1="395" x2="1843.7" y2="496.9" stroke="#9a9a9a" stroke-width="2.2"/>
<polygon points="1828,505.7 1842,489.8 1848.9,502" fill="#9a9a9a"/>
<line x1="2051" y1="624" x2="2105.8" y2="793" stroke="#9a9a9a" stroke-width="2.2"/>
<polygon points="2112,812 2098.6,793.2 2111.9,788.9" fill="#9a9a9a"/>
<rect x="2627" y="812.6" width="65" height="12.4" fill="#fff"/>
<rect x="2627" y="812.6" width="1.8" height="12.4" fill="#333"/>
<rect x="2630" y="812.6" width="1.8" height="12.4" fill="#333"/>
<rect x="2633" y="812.6" width="1.8" height="12.4" fill="#333"/>
<rect x="2636" y="812.6" width="1.8" height="12.4" fill="#333"/>
<rect x="2639" y="812.6" width="1.8" height="12.4" fill="#333"/>
<rect x="2642" y="812.6" width="1.8" height="12.4" fill="#333"/>
<rect x="2645" y="812.6" width="1.8" height="12.4" fill="#333"/>
<rect x="2648" y="812.6" width="1.8" height="12.4" fill="#333"/>
<rect x="2651" y="812.6" width="1.8" height="12.4" fill="#333"/>
<rect x="2654" y="812.6" width="1.8" height="12.4" fill="#333"/>
<rect x="2657" y="812.6" width="1.8" height="12.4" fill="#333"/>
<rect x="2660" y="812.6" width="1.8" height="12.4" fill="#333"/>
<rect x="2663" y="812.6" width="1.8" height="12.4" fill="#333"/>
<rect x="2666" y="812.6" width="1.8" height="12.4" fill="#333"/>
<rect x="2669" y="812.6" width="1.8" height="12.4" fill="#333"/>
<rect x="2672" y="812.6" width="1.8" height="12.4" fill="#333"/>
<rect x="2675" y="812.6" width="1.8" height="12.4" fill="#333"/>
<rect x="2678" y="812.6" width="1.8" height="12.4" fill="#333"/>
<rect x="2681" y="812.6" width="1.8" height="12.4" fill="#333"/>
<rect x="2684" y="812.6" width="1.8" height="12.4" fill="#333"/>
<rect x="2687" y="812.6" width="1.8" height="12.4" fill="#333"/>
<rect x="2690" y="812.6" width="1.8" height="12.4" fill="#333"/>
<rect x="2627" y="816.5" width="65" height="4.5" fill="#444"/>
<line x1="2662" y1="721" x2="2662" y2="796" stroke="#222" stroke-width="3"/>
<polygon points="2662,812 2654,794 2670,794" fill="#222"/>
<line x1="1733" y1="1201.3" x2="2065" y2="1201.3" stroke="#555" stroke-width="2"/>
<line x1="1733" y1="1193.4" x2="1733" y2="1220.3" stroke="#555" stroke-width="2"/>
<line x1="2065" y1="1193.4" x2="2065" y2="1220.3" stroke="#555" stroke-width="2"/>
<text x="1721.3" y="65.2" font-size="34" fill="#1e1e1e" textLength="113.3" lengthAdjust="spacingAndGlyphs">Protons</text>
<text x="2225" y="42" font-size="36" fill="#7f8083" textLength="346.3" lengthAdjust="spacingAndGlyphs">Pion Capture Section</text>
<text x="2226.4" y="93.3" font-size="32" fill="#1e1e1e">A</text>
<text x="2262.8" y="93.3" font-size="32" fill="#1e1e1e">section</text>
<text x="2379.2" y="93.3" font-size="32" fill="#1e1e1e">to</text>
<text x="2420.9" y="93.3" font-size="32" fill="#1e1e1e">capture</text>
<text x="2542.7" y="93.3" font-size="32" fill="#1e1e1e">pions</text>
<text x="2634.2" y="93.3" font-size="32" fill="#1e1e1e">with</text>
<text x="2706.1" y="93.3" font-size="32" fill="#1e1e1e">a</text>
<text x="2226.4" y="130.8" font-size="32" fill="#1e1e1e">large</text>
<text x="2322" y="130.8" font-size="32" fill="#1e1e1e">solid</text>
<text x="2412.2" y="130.8" font-size="32" fill="#1e1e1e">angle</text>
<text x="2514.9" y="130.8" font-size="32" fill="#1e1e1e">under</text>
<text x="2621.2" y="130.8" font-size="32" fill="#1e1e1e">a</text>
<text x="2663.4" y="130.8" font-size="32" fill="#1e1e1e">high</text>
<text x="2226.4" y="168.6" font-size="32" fill="#1e1e1e">solenoidal</text>
<text x="2380.6" y="168.6" font-size="32" fill="#1e1e1e">magnetic</text>
<text x="2520.5" y="168.6" font-size="32" fill="#1e1e1e">field</text>
<text x="2589.3" y="168.6" font-size="32" fill="#1e1e1e">by</text>
<text x="2633.2" y="168.6" font-size="32" fill="#1e1e1e">super-</text>
<text x="2224.4" y="206.3" font-size="32" fill="#1e1e1e">conducting magnet.</text>
<text x="2047.6" y="211.7" font-size="29.2" fill="#7f8083" textLength="139.4" lengthAdjust="spacingAndGlyphs">Production</text>
<text x="2075" y="245.7" font-size="29.2" fill="#7f8083">Target</text>
<text x="2031.7" y="404.8" font-size="35" fill="#1e1e1e" textLength="81.3" lengthAdjust="spacingAndGlyphs">Pions</text>
<text x="2031.7" y="616" font-size="35" fill="#1e1e1e" textLength="100.9" lengthAdjust="spacingAndGlyphs">Muons</text>
<text x="2694" y="477.1" font-size="36" fill="#7f8083" textLength="106" lengthAdjust="spacingAndGlyphs">PRIME</text>
<text x="2697.5" y="524.5" font-size="32" fill="#1e1e1e">A</text>
<text x="2729" y="524.5" font-size="32" fill="#1e1e1e">detector</text>
<text x="2854.7" y="524.5" font-size="32" fill="#1e1e1e">to</text>
<text x="2891.5" y="524.5" font-size="32" fill="#1e1e1e">search</text>
<text x="2997.7" y="524.5" font-size="32" fill="#1e1e1e">for</text>
<text x="2697.5" y="561.5" font-size="32" fill="#1e1e1e">muon-to-electron</text>
<text x="2972.8" y="561.5" font-size="32" fill="#1e1e1e">con-</text>
<text x="2695.5" y="599.3" font-size="32" fill="#1e1e1e">version processes.</text>
<text x="2598.7" y="672" font-size="29.2" fill="#7f8083" textLength="116.3" lengthAdjust="spacingAndGlyphs">Stopping</text>
<text x="2616.2" y="709" font-size="29.2" fill="#7f8083">Target</text>
<text x="1910.6" y="948.8" font-size="36" fill="#7f8083" textLength="253.1" lengthAdjust="spacingAndGlyphs">Pion-Decay and</text>
<text x="1909.8" y="987" font-size="36" fill="#7f8083" textLength="387.2" lengthAdjust="spacingAndGlyphs">Muon-transport Section</text>
<text x="1911.8" y="1038.5" font-size="32" fill="#1e1e1e">A</text>
<text x="1954.2" y="1038.5" font-size="32" fill="#1e1e1e">section</text>
<text x="2076.7" y="1038.5" font-size="32" fill="#1e1e1e">to</text>
<text x="2124.5" y="1038.5" font-size="32" fill="#1e1e1e">collect</text>
<text x="2236.3" y="1038.5" font-size="32" fill="#1e1e1e">muons</text>
<text x="1911.8" y="1076.5" font-size="32" fill="#1e1e1e">from</text>
<text x="1989.5" y="1076.5" font-size="32" fill="#1e1e1e">decay</text>
<text x="2088.5" y="1076.5" font-size="32" fill="#1e1e1e">of</text>
<text x="2128.8" y="1076.5" font-size="32" fill="#1e1e1e">pions</text>
<text x="2219" y="1076.5" font-size="32" fill="#1e1e1e">under</text>
<text x="2314.5" y="1076.5" font-size="32" fill="#1e1e1e">a</text>
<text x="1909.8" y="1114.4" font-size="32" fill="#1e1e1e">solenoidal magnetic field.</text>
<text x="1871.9" y="1187" font-size="24" fill="#222" font-weight="bold">5m</text>
<g transform="matrix(1 0.175 0 1 0 0)">
<path d="M0,249.6 L972,249.6 Q997,251 997,275 L998,331 L990,362 L980,395 L955,441 L0,441 L0,426 L3.2,420.8 C12,405 22,360 32,272.8 L0,270 L0,265 L14,262 L0,257 Z" fill="#44464e"/>
<rect x="20" y="262" width="950" height="14" fill="#6c6e76"/>
<rect x="20" y="267" width="950" height="2.5" fill="#9c9da3"/>
<path d="M965,262 L990,262 Q997,268 997,285 L998,331 L990,362 L980,395 L955,441 L940,441 L965,262 Z" fill="#74767e"/>
<path d="M33,276 L975,276 Q989,278 989,292 L989,332 L982,362 L972,395 L950,425 L6,425 C14,408 24,360 33,276 Z" fill="url(#dsIn)"/>
<rect x="0" y="425" width="955" height="16" fill="#6e7078"/>
<rect x="0" y="430" width="955" height="2.5" fill="#9c9ea4"/>
<rect x="0" y="437.5" width="955" height="3.5" fill="#55575f"/>
<path d="M33,278 L140,278 L140,425 L6,425 C14,408 24,360 33,278 Z" fill="url(#dsL)"/>
<rect x="136" y="294" width="100" height="118" fill="#cfd0d4"/>
<rect x="136" y="322" width="100" height="36" fill="#c2c3c8"/>
<rect x="162" y="317" width="103" height="9" fill="#5c5e66"/>
<rect x="255" y="317" width="10" height="12" fill="#3f4149"/>
<rect x="115" y="358" width="105" height="11" fill="#5c5e66"/>
<rect x="210" y="358" width="10" height="13" fill="#3f4149"/>
<rect x="139" y="378" width="72" height="4" fill="#6c6e76"/>
<rect x="233" y="294" width="3" height="25" fill="#55575f"/>
<rect x="236" y="385" width="3.5" height="27" fill="#55575f"/>
<path d="M326,283 L551,284.6 L551,322 L562,327 L540,336 L540,365 L556,371 L540,380 L535,404 L306,409 L306,380 L300,371 L306,365 L306,336 L300,325 L310,322 Z" fill="url(#trk)"/>
<rect x="300" y="325" width="222" height="11" fill="#3f4149"/>
<rect x="300" y="369" width="222" height="11" fill="#40424a"/>
<rect x="306" y="336" width="214" height="3" fill="#878991"/>
<path d="M520,284.6 L551,284.6 L551,322 L562,327 L540,336 L540,365 L556,371 L540,380 L535,404 L520,404 Z" fill="#5f616a"/>
<line x1="330" y1="300" x2="520" y2="300" stroke="#3a3c44" stroke-width="1.5" stroke-dasharray="3,3"/>
<line x1="310" y1="404" x2="520" y2="404" stroke="#3a3c44" stroke-width="1.5" stroke-dasharray="3,3"/>
<rect x="711" y="346" width="68" height="9.5" fill="#35373f"/>
<path d="M894,328 L988,328 L988,358 L903,358 Z" fill="#9a9ca2"/>
<path d="M888,356 L998,356 L998,384 L900,384 Z" fill="#62646c"/>
<rect x="894" y="328" width="94" height="6" fill="#5d5f67"/>
<rect x="900" y="342" width="88" height="3" fill="#6d6f77"/>
<rect x="964" y="336" width="3" height="12" fill="#2e3036"/>
<rect x="970" y="336" width="3" height="12" fill="#2e3036"/>
<rect x="976" y="336" width="3" height="12" fill="#2e3036"/>
<rect x="982" y="336" width="3" height="12" fill="#2e3036"/>
</g>
<path d="M988,506 C990.8,506.5 996.7,506.8 1005,509 C1013.3,511.2 1026,515.5 1038,519 C1050,522.5 1064,525.2 1077,530 C1090,534.8 1105.3,541.8 1116,548 C1126.7,554.2 1134,560.2 1141,567 C1148,573.8 1154.5,580.8 1158,589 C1161.5,597.2 1161.7,607.5 1162,616 C1162.3,624.5 1162.7,631.3 1160,640 C1157.3,648.7 1153.5,658 1146,668 C1138.5,678 1126.8,689.3 1115,700 C1103.2,710.7 1087.2,722.5 1075,732 C1062.8,741.5 1050.2,749.3 1042,757 C1033.8,764.7 1028,771.5 1026,778 C1024,784.5 1026.3,790 1030,796 C1033.7,802 1038.8,809.3 1048,814 C1057.2,818.7 1071.7,821.3 1085,824 C1098.3,826.7 1106.3,828 1128,830 C1149.7,832 1200.5,835 1215,836 L1215,891 C1206.5,891.3 1182.7,894.3 1164,893 C1145.3,891.7 1122.7,887.3 1103,883 C1083.3,878.7 1063,873.2 1046,867 C1029,860.8 1014.7,856.2 1001,846 C987.3,835.8 972.2,817.3 964,806 C955.8,794.7 954.3,785.7 952,778 C949.7,770.3 949,766.3 950,760 C951,753.7 952.8,748.3 958,740 C963.2,731.7 973.7,718.3 981,710 C988.3,701.7 994.2,696 1002,690 C1009.8,684 1018.7,679.8 1028,674 C1037.3,668.2 1049.2,661.5 1058,655 C1066.8,648.5 1075.8,641.5 1081,635 C1086.2,628.5 1088.3,621.8 1089,616 C1089.7,610.2 1090.2,605.8 1085,600 C1079.8,594.2 1069,586.2 1058,581 C1047,575.8 1032,572.3 1019,569 C1006,565.7 986.5,562.3 980,561 Z" fill="#50525a"/>
<g clip-path="url(#tsClip)">
<path d="M965.7,531.1 L967.4,531.3 L969.3,531.6 L971.5,531.8 L973.9,532.1 L976.6,532.5 L979.4,532.8 L982.4,533.1 L985.6,533.5 L988.9,533.9 L992.3,534.3 L995.8,534.8 L999.4,535.2 L1003,535.7 L1006.7,536.2 L1010.4,536.8 L1014.1,537.4 L1017.8,538 L1021.4,538.6 L1025,539.3 L1028.5,540 L1031.9,540.7 L1035.2,541.5 L1038.4,542.3 L1041.4,543.2 L1044.3,544.1 L1047.2,545 L1050.1,546 L1052.9,547 L1055.8,548 L1058.6,549 L1061.4,550.1 L1064.3,551.3 L1067,552.4 L1069.8,553.6 L1072.5,554.8 L1075.2,556 L1077.8,557.3 L1080.4,558.6 L1083,559.9 L1085.5,561.3 L1087.9,562.7 L1090.3,564.1 L1092.7,565.5 L1094.9,567 L1097.1,568.5 L1099.2,570 L1101.3,571.6 L1103.2,573.2 L1105.1,574.8 L1106.9,576.4 L1108.7,578.1 L1110.5,579.9 L1112.2,581.6 L1113.8,583.5 L1115.5,585.3 L1117,587.2 L1118.5,589.1 L1119.9,591.1 L1121.3,593 L1122.6,595 L1123.8,597 L1125,599.1 L1126,601.1 L1127,603.2 L1127.9,605.3 L1128.7,607.3 L1129.4,609.4 L1129.9,611.5 L1130.4,613.7 L1130.7,615.8 L1130.9,617.9 L1131,620 L1130.9,622.1 L1130.7,624.2 L1130.4,626.2 L1130,628.3 L1129.4,630.3 L1128.8,632.3 L1128,634.2 L1127.1,636.2 L1126.2,638.1 L1125.1,640 L1124,641.9 L1122.8,643.8 L1121.5,645.7 L1120.2,647.5 L1118.7,649.4 L1117.3,651.2 L1115.7,653.1 L1114.1,654.9 L1112.4,656.7 L1110.7,658.5 L1109,660.3 L1107.2,662.1 L1105.3,663.9 L1103.4,665.7 L1101.3,667.5 L1099.1,669.4 L1096.7,671.3 L1094.2,673.1 L1091.6,675 L1088.8,676.8 L1086.1,678.7 L1083.2,680.5 L1080.3,682.3 L1077.3,684.2 L1074.3,686 L1071.3,687.8 L1068.3,689.6 L1065.3,691.4 L1062.3,693.1 L1059.4,694.9 L1056.5,696.6 L1053.7,698.3 L1050.9,700 L1048.3,701.7 L1045.8,703.3 L1043.4,704.9 L1041.1,706.5 L1039,708 L1036.9,709.6 L1034.8,711.1 L1032.8,712.6 L1030.8,714.1 L1028.8,715.6 L1026.9,717 L1025,718.5 L1023.2,719.9 L1021.5,721.3 L1019.7,722.6 L1018.1,724 L1016.5,725.3 L1014.9,726.6 L1013.5,728 L1012,729.3 L1010.7,730.6 L1009.4,731.8 L1008.1,733.1 L1007,734.4 L1005.9,735.6 L1004.9,736.9 L1003.9,738.1 L1003.1,739.4 L1002.3,740.6 L1001.5,741.9 L1000.9,743.1 L1000.3,744.3 L999.8,745.5 L999.4,746.7 L999,747.8 L998.6,749 L998.4,750.2 L998.1,751.4 L998,752.6 L997.8,753.8 L997.7,755.1 L997.7,756.3 L997.7,757.6 L997.7,758.8 L997.7,760.1 L997.8,761.4 L997.9,762.8 L998,764.1 L998.2,765.5 L998.4,766.9 L998.6,768.4 L998.7,769.8 L999,771.3 L999.2,772.8 L999.4,774.3 L999.6,775.8 L999.9,777.3 L1000.2,778.8 L1000.5,780.4 L1000.9,781.9 L1001.2,783.5 L1001.6,785 L1002,786.6 L1002.5,788.1 L1003,789.7 L1003.5,791.2 L1004.1,792.8 L1004.7,794.3 L1005.3,795.8 L1006,797.2 L1006.7,798.7 L1007.5,800.1 L1008.3,801.5 L1009.1,802.9 L1010,804.3 L1010.9,805.6 L1011.9,806.9 L1013,808.2 L1014.1,809.5 L1015.3,810.8 L1016.5,812.1 L1017.8,813.4 L1019.1,814.7 L1020.5,815.9 L1021.9,817.2 L1023.3,818.4 L1024.8,819.7 L1026.4,820.9 L1028,822.1 L1029.6,823.3 L1031.3,824.5 L1033,825.7 L1034.8,826.8 L1036.6,828 L1038.4,829.1 L1040.3,830.2 L1042.2,831.3 L1044.2,832.4 L1046.1,833.4 L1048.2,834.5 L1050.2,835.5 L1052.3,836.5 L1054.4,837.5 L1056.5,838.5 L1058.6,839.5 L1060.8,840.5 L1062.9,841.4 L1065.1,842.4 L1067.3,843.3 L1069.6,844.2 L1071.9,845.1 L1074.2,845.9 L1076.6,846.8 L1079,847.6 L1081.5,848.4 L1084.1,849.2 L1086.7,849.9 L1089.4,850.7 L1092.2,851.4 L1095,852 L1098,852.7 L1101,853.3 L1104.2,853.9 L1107.4,854.5 L1110.8,855.1 L1114.3,855.6 L1118.2,856 L1122.3,856.5 L1126.7,856.9 L1131.3,857.3 L1136,857.6 L1141,858 L1146,858.3 L1151.1,858.5 L1156.3,858.8 L1161.4,859 L1166.6,859.3 L1171.7,859.5 L1176.7,859.6 L1181.6,859.8 L1186.3,860 L1190.9,860.1 L1195.3,860.3 L1199.4,860.4 L1203.2,860.5 L1206.8,860.6 L1210,860.8 L1212.8,860.9 L1215.3,861" fill="none" stroke="#7d7f86" stroke-width="38" stroke-linejoin="round"/>
<path d="M966.5,526.1 L968.1,526.4 L970,526.6 L972.1,526.9 L974.5,527.2 L977.2,527.5 L980,527.8 L983,528.2 L986.2,528.6 L989.5,528.9 L992.9,529.4 L996.4,529.8 L1000.1,530.3 L1003.7,530.8 L1007.4,531.3 L1011.2,531.8 L1014.9,532.4 L1018.6,533 L1022.3,533.7 L1026,534.4 L1029.6,535.1 L1033.1,535.9 L1036.5,536.7 L1039.7,537.5 L1042.9,538.4 L1045.8,539.3 L1048.7,540.3 L1051.7,541.2 L1054.6,542.3 L1057.5,543.3 L1060.4,544.4 L1063.3,545.5 L1066.1,546.6 L1069,547.8 L1071.8,549 L1074.6,550.2 L1077.3,551.5 L1080,552.8 L1082.7,554.2 L1085.3,555.5 L1087.9,556.9 L1090.4,558.3 L1092.9,559.8 L1095.3,561.3 L1097.7,562.8 L1100,564.4 L1102.2,566 L1104.3,567.7 L1106.4,569.3 L1108.4,571 L1110.3,572.7 L1112.2,574.5 L1114,576.4 L1115.8,578.2 L1117.6,580.1 L1119.3,582.1 L1120.9,584.1 L1122.5,586.1 L1124,588.2 L1125.5,590.2 L1126.8,592.4 L1128.1,594.5 L1129.4,596.7 L1130.5,598.9 L1131.6,601.1 L1132.5,603.4 L1133.4,605.7 L1134.1,608 L1134.8,610.4 L1135.3,612.7 L1135.7,615.1 L1135.9,617.6 L1136,620 L1135.9,622.4 L1135.7,624.8 L1135.3,627.1 L1134.8,629.5 L1134.2,631.7 L1133.5,634 L1132.6,636.2 L1131.6,638.3 L1130.6,640.4 L1129.5,642.5 L1128.3,644.6 L1127,646.6 L1125.6,648.6 L1124.2,650.5 L1122.7,652.5 L1121.1,654.4 L1119.5,656.3 L1117.8,658.2 L1116.1,660.1 L1114.3,662 L1112.5,663.8 L1110.7,665.7 L1108.8,667.5 L1106.8,669.4 L1104.6,671.3 L1102.2,673.3 L1099.7,675.3 L1097.1,677.2 L1094.4,679.1 L1091.6,681 L1088.8,682.9 L1085.9,684.7 L1082.9,686.6 L1079.9,688.4 L1076.9,690.3 L1073.9,692.1 L1070.9,693.9 L1067.8,695.7 L1064.9,697.4 L1061.9,699.2 L1059.1,700.9 L1056.3,702.6 L1053.6,704.3 L1051,705.9 L1048.5,707.5 L1046.2,709.1 L1044,710.6 L1041.9,712.1 L1039.9,713.6 L1037.8,715.1 L1035.7,716.7 L1033.8,718.1 L1031.8,719.6 L1029.9,721 L1028.1,722.4 L1026.3,723.8 L1024.6,725.2 L1022.9,726.5 L1021.3,727.8 L1019.7,729.1 L1018.2,730.4 L1016.8,731.7 L1015.4,732.9 L1014.2,734.1 L1012.9,735.3 L1011.8,736.5 L1010.7,737.7 L1009.7,738.8 L1008.8,740 L1008,741.1 L1007.2,742.2 L1006.5,743.3 L1005.9,744.3 L1005.3,745.3 L1004.9,746.3 L1004.4,747.3 L1004.1,748.3 L1003.8,749.3 L1003.5,750.3 L1003.3,751.2 L1003.1,752.2 L1002.9,753.3 L1002.8,754.3 L1002.7,755.4 L1002.7,756.4 L1002.7,757.6 L1002.7,758.7 L1002.7,759.9 L1002.8,761.1 L1002.9,762.4 L1003,763.6 L1003.2,765 L1003.3,766.3 L1003.5,767.7 L1003.7,769.2 L1003.9,770.6 L1004.1,772 L1004.3,773.5 L1004.6,774.9 L1004.8,776.4 L1005.1,777.9 L1005.4,779.3 L1005.7,780.8 L1006.1,782.3 L1006.5,783.7 L1006.9,785.2 L1007.3,786.7 L1007.7,788.1 L1008.2,789.6 L1008.8,791 L1009.3,792.4 L1009.9,793.8 L1010.5,795.1 L1011.2,796.4 L1011.8,797.7 L1012.6,799 L1013.3,800.3 L1014.1,801.5 L1015,802.6 L1015.8,803.8 L1016.8,805 L1017.9,806.2 L1019,807.4 L1020.1,808.6 L1021.3,809.8 L1022.5,811 L1023.8,812.2 L1025.2,813.4 L1026.5,814.6 L1028,815.8 L1029.5,817 L1031,818.1 L1032.6,819.3 L1034.2,820.4 L1035.8,821.5 L1037.5,822.6 L1039.2,823.7 L1041,824.8 L1042.8,825.9 L1044.7,827 L1046.5,828 L1048.5,829 L1050.4,830 L1052.4,831 L1054.5,832 L1056.6,833 L1058.6,834 L1060.7,835 L1062.8,835.9 L1064.9,836.9 L1067.1,837.8 L1069.2,838.7 L1071.4,839.5 L1073.6,840.4 L1075.9,841.2 L1078.2,842 L1080.6,842.8 L1083,843.6 L1085.5,844.4 L1088,845.1 L1090.6,845.8 L1093.4,846.5 L1096.1,847.2 L1099,847.8 L1102,848.4 L1105.1,849 L1108.2,849.6 L1111.5,850.1 L1115,850.6 L1118.7,851.1 L1122.8,851.5 L1127.1,851.9 L1131.7,852.3 L1136.4,852.6 L1141.3,853 L1146.3,853.3 L1151.4,853.6 L1156.5,853.8 L1161.6,854 L1166.8,854.3 L1171.9,854.5 L1176.9,854.6 L1181.8,854.8 L1186.5,855 L1191.1,855.1 L1195.4,855.3 L1199.6,855.4 L1203.4,855.5 L1207,855.6 L1210.2,855.8 L1213.1,855.9 L1215.5,856" fill="none" stroke="#a2a3a9" stroke-width="18" stroke-linejoin="round"/>
<path d="M967.2,521.2 L968.8,521.4 L970.6,521.7 L972.8,521.9 L975.1,522.2 L977.7,522.5 L980.6,522.9 L983.6,523.2 L986.8,523.6 L990.1,524 L993.5,524.4 L997.1,524.8 L1000.7,525.3 L1004.4,525.8 L1008.2,526.3 L1011.9,526.9 L1015.7,527.5 L1019.5,528.1 L1023.2,528.8 L1026.9,529.5 L1030.6,530.2 L1034.2,531 L1037.7,531.8 L1041.1,532.7 L1044.3,533.6 L1047.3,534.6 L1050.3,535.5 L1053.3,536.5 L1056.2,537.5 L1059.2,538.6 L1062.2,539.7 L1065.1,540.8 L1068,542 L1070.9,543.2 L1073.8,544.4 L1076.6,545.7 L1079.5,547 L1082.2,548.3 L1085,549.7 L1087.7,551.1 L1090.3,552.5 L1093,554 L1095.5,555.5 L1098,557.1 L1100.5,558.7 L1102.9,560.3 L1105.2,562 L1107.4,563.7 L1109.6,565.5 L1111.7,567.3 L1113.7,569.1 L1115.7,570.9 L1117.6,572.8 L1119.5,574.8 L1121.3,576.8 L1123.1,578.9 L1124.8,580.9 L1126.5,583.1 L1128.1,585.2 L1129.6,587.4 L1131.1,589.7 L1132.5,592 L1133.8,594.3 L1135,596.7 L1136.1,599.1 L1137.2,601.5 L1138.1,604 L1138.9,606.6 L1139.6,609.2 L1140.2,611.8 L1140.6,614.5 L1140.9,617.2 L1141,620 L1140.9,622.7 L1140.7,625.4 L1140.2,628.1 L1139.7,630.6 L1139,633.2 L1138.2,635.7 L1137.2,638.1 L1136.2,640.4 L1135,642.7 L1133.8,645 L1132.5,647.2 L1131.1,649.3 L1129.7,651.5 L1128.2,653.5 L1126.6,655.6 L1125,657.6 L1123.3,659.6 L1121.5,661.6 L1119.8,663.5 L1117.9,665.4 L1116.1,667.3 L1114.2,669.2 L1112.2,671.1 L1110.1,673 L1107.8,675.1 L1105.3,677.2 L1102.7,679.2 L1100,681.2 L1097.3,683.2 L1094.4,685.1 L1091.5,687.1 L1088.6,689 L1085.6,690.8 L1082.5,692.7 L1079.5,694.5 L1076.4,696.4 L1073.4,698.2 L1070.4,700 L1067.4,701.7 L1064.5,703.5 L1061.7,705.2 L1058.9,706.9 L1056.2,708.5 L1053.7,710.1 L1051.2,711.7 L1049,713.2 L1046.9,714.6 L1044.9,716.1 L1042.8,717.6 L1040.8,719.1 L1038.7,720.7 L1036.8,722.1 L1034.8,723.6 L1032.9,725 L1031.1,726.4 L1029.4,727.8 L1027.7,729.1 L1026,730.4 L1024.4,731.7 L1022.9,732.9 L1021.5,734.2 L1020.1,735.4 L1018.8,736.6 L1017.6,737.7 L1016.5,738.9 L1015.4,740 L1014.5,741 L1013.6,742.1 L1012.7,743.1 L1012,744 L1011.3,745 L1010.8,745.9 L1010.3,746.7 L1009.8,747.6 L1009.4,748.4 L1009.1,749.2 L1008.8,749.9 L1008.6,750.7 L1008.3,751.5 L1008.2,752.3 L1008,753.1 L1007.9,753.9 L1007.8,754.8 L1007.7,755.7 L1007.7,756.6 L1007.7,757.6 L1007.7,758.6 L1007.7,759.6 L1007.8,760.8 L1007.9,761.9 L1008,763.1 L1008.1,764.4 L1008.3,765.7 L1008.5,767.1 L1008.7,768.5 L1008.9,769.9 L1009.1,771.3 L1009.3,772.7 L1009.5,774.1 L1009.7,775.5 L1010,776.9 L1010.3,778.3 L1010.6,779.7 L1010.9,781.1 L1011.3,782.5 L1011.7,783.8 L1012.1,785.2 L1012.5,786.6 L1013,787.9 L1013.4,789.2 L1013.9,790.5 L1014.5,791.7 L1015,793 L1015.6,794.2 L1016.2,795.3 L1016.9,796.5 L1017.6,797.6 L1018.3,798.6 L1019,799.7 L1019.8,800.7 L1020.7,801.8 L1021.6,802.9 L1022.6,804 L1023.7,805.2 L1024.8,806.3 L1026,807.4 L1027.2,808.5 L1028.4,809.7 L1029.8,810.8 L1031.1,811.9 L1032.5,813 L1034,814.1 L1035.5,815.2 L1037,816.3 L1038.6,817.4 L1040.2,818.4 L1041.9,819.5 L1043.6,820.5 L1045.3,821.6 L1047.1,822.6 L1048.9,823.6 L1050.8,824.6 L1052.7,825.6 L1054.6,826.5 L1056.7,827.5 L1058.7,828.5 L1060.8,829.5 L1062.8,830.4 L1064.9,831.4 L1066.9,832.3 L1069,833.2 L1071.1,834 L1073.2,834.9 L1075.4,835.7 L1077.6,836.5 L1079.8,837.3 L1082.1,838.1 L1084.5,838.8 L1086.9,839.6 L1089.4,840.3 L1091.9,841 L1094.5,841.7 L1097.3,842.3 L1100.1,842.9 L1103,843.5 L1106,844.1 L1109.1,844.7 L1112.3,845.2 L1115.6,845.7 L1119.3,846.1 L1123.3,846.5 L1127.6,846.9 L1132,847.3 L1136.7,847.7 L1141.6,848 L1146.6,848.3 L1151.6,848.6 L1156.7,848.8 L1161.9,849 L1167,849.3 L1172.1,849.5 L1177.1,849.6 L1181.9,849.8 L1186.7,850 L1191.2,850.1 L1195.6,850.3 L1199.7,850.4 L1203.6,850.5 L1207.2,850.6 L1210.4,850.8 L1213.3,850.9 L1215.8,851" fill="none" stroke="#bcbdc1" stroke-width="5" stroke-linejoin="round"/>
<path d="M962.8,550.8 L964.6,551.1 L966.7,551.4 L969,551.7 L971.5,552 L974.2,552.3 L977.1,552.7 L980.1,553 L983.2,553.4 L986.5,553.8 L989.9,554.2 L993.3,554.6 L996.8,555.1 L1000.3,555.5 L1003.9,556 L1007.4,556.6 L1011,557.1 L1014.4,557.7 L1017.9,558.3 L1021.2,558.9 L1024.4,559.6 L1027.5,560.2 L1030.4,560.9 L1033.1,561.6 L1035.7,562.4 L1038.3,563.2 L1041,564 L1043.6,564.9 L1046.3,565.8 L1048.9,566.8 L1051.5,567.8 L1054.1,568.8 L1056.7,569.8 L1059.3,570.8 L1061.8,571.9 L1064.2,573 L1066.7,574.1 L1069,575.3 L1071.4,576.4 L1073.6,577.6 L1075.8,578.8 L1077.9,580 L1080,581.2 L1081.9,582.4 L1083.8,583.6 L1085.6,584.9 L1087.3,586.1 L1088.9,587.3 L1090.4,588.5 L1091.9,589.8 L1093.4,591.1 L1094.8,592.5 L1096.2,593.9 L1097.6,595.3 L1098.9,596.8 L1100.2,598.2 L1101.4,599.7 L1102.6,601.2 L1103.7,602.7 L1104.7,604.2 L1105.7,605.7 L1106.6,607.1 L1107.4,608.6 L1108.1,610 L1108.8,611.4 L1109.3,612.7 L1109.8,614 L1110.2,615.2 L1110.5,616.3 L1110.7,617.4 L1110.9,618.3 L1111,619.2 L1111,620 L1111,620.8 L1110.9,621.7 L1110.8,622.5 L1110.6,623.5 L1110.3,624.4 L1109.9,625.5 L1109.5,626.6 L1109,627.7 L1108.4,628.9 L1107.7,630.2 L1107,631.4 L1106.1,632.8 L1105.2,634.2 L1104.2,635.6 L1103,637 L1101.9,638.5 L1100.6,640 L1099.2,641.5 L1097.8,643 L1096.3,644.6 L1094.8,646.2 L1093.2,647.8 L1091.5,649.4 L1089.9,651 L1088.2,652.4 L1086.5,653.9 L1084.6,655.4 L1082.4,657 L1080.1,658.6 L1077.7,660.2 L1075.1,661.9 L1072.5,663.6 L1069.7,665.4 L1066.9,667.1 L1064,668.9 L1061.1,670.6 L1058.1,672.4 L1055.1,674.2 L1052.1,675.9 L1049.1,677.7 L1046.2,679.5 L1043.2,681.3 L1040.4,683 L1037.5,684.8 L1034.8,686.6 L1032.1,688.4 L1029.5,690.2 L1027.1,691.9 L1024.9,693.5 L1022.9,695.1 L1020.8,696.6 L1018.8,698.1 L1016.8,699.6 L1014.8,701.1 L1012.9,702.6 L1010.9,704.1 L1009,705.6 L1007.2,707.1 L1005.4,708.6 L1003.6,710.1 L1001.8,711.6 L1000.1,713.1 L998.4,714.6 L996.7,716.2 L995.1,717.8 L993.6,719.4 L992,721.1 L990.6,722.8 L989.1,724.5 L987.8,726.3 L986.5,728.2 L985.2,730.1 L984.1,732.1 L983,734.1 L982.1,736.1 L981.2,738.1 L980.5,740.1 L979.8,742.1 L979.3,744.1 L978.8,746.1 L978.4,748.1 L978.1,750 L977.9,752 L977.8,753.8 L977.7,755.7 L977.7,757.5 L977.7,759.3 L977.8,761.1 L977.9,762.8 L978,764.5 L978.2,766.2 L978.3,767.8 L978.5,769.4 L978.7,771 L978.9,772.5 L979.1,774.1 L979.4,775.7 L979.6,777.4 L979.9,779.1 L980.2,780.9 L980.6,782.7 L981,784.5 L981.4,786.4 L981.8,788.2 L982.3,790.1 L982.8,792.1 L983.4,794 L984,795.9 L984.7,797.9 L985.4,799.9 L986.2,801.8 L987,803.8 L987.9,805.8 L988.9,807.8 L989.9,809.7 L991,811.7 L992.2,813.6 L993.5,815.6 L994.8,817.5 L996.2,819.3 L997.6,821 L999.1,822.7 L1000.6,824.4 L1002.1,826 L1003.7,827.6 L1005.3,829.2 L1007,830.7 L1008.7,832.3 L1010.5,833.8 L1012.3,835.3 L1014.1,836.7 L1016,838.1 L1017.9,839.6 L1019.9,840.9 L1021.9,842.3 L1023.9,843.6 L1026,844.9 L1028.1,846.2 L1030.2,847.5 L1032.4,848.7 L1034.6,850 L1036.8,851.2 L1039.1,852.3 L1041.4,853.5 L1043.6,854.5 L1045.8,855.6 L1048,856.7 L1050.3,857.7 L1052.6,858.8 L1055,859.8 L1057.4,860.8 L1059.8,861.8 L1062.3,862.8 L1064.8,863.8 L1067.4,864.7 L1070,865.7 L1072.8,866.6 L1075.5,867.5 L1078.4,868.3 L1081.3,869.2 L1084.3,870 L1087.4,870.8 L1090.5,871.5 L1093.8,872.3 L1097.1,872.9 L1100.5,873.6 L1104.1,874.2 L1107.7,874.8 L1111.7,875.4 L1115.9,875.9 L1120.3,876.4 L1124.9,876.8 L1129.7,877.2 L1134.6,877.6 L1139.7,877.9 L1144.8,878.2 L1150.1,878.5 L1155.3,878.8 L1160.6,879 L1165.8,879.2 L1170.9,879.4 L1176,879.6 L1180.9,879.8 L1185.7,880 L1190.3,880.1 L1194.6,880.2 L1198.8,880.4 L1202.6,880.5 L1206.1,880.6 L1209.2,880.7 L1211.9,880.9 L1214.2,881" fill="none" stroke="#3c3e46" stroke-width="2.5" stroke-linejoin="round"/>
</g>
<path d="M1005,509 C1010.5,510.7 1026,515.5 1038,519 C1050,522.5 1064,525.2 1077,530 C1090,534.8 1105.3,541.8 1116,548 C1126.7,554.2 1134,560.2 1141,567 C1148,573.8 1154.5,580.8 1158,589 C1161.5,597.2 1161.7,607.5 1162,616 C1162.3,624.5 1162.7,631.3 1160,640 C1157.3,648.7 1153.5,658 1146,668 C1138.5,678 1126.8,689.3 1115,700 C1103.2,710.7 1087.2,722.5 1075,732 C1062.8,741.5 1050.2,749.3 1042,757 C1033.8,764.7 1028.7,774.5 1026,778" fill="none" stroke="#fff" stroke-width="9" stroke-dasharray="4,5"/>
<path d="M1028,674 C1023.7,676.7 1009.8,684 1002,690 C994.2,696 988.3,701.7 981,710 C973.7,718.3 963.2,731.7 958,740 C952.8,748.3 951,753.7 950,760 C949,766.3 949.7,770.3 952,778 C954.3,785.7 955.8,794.7 964,806 C972.2,817.3 987.3,835.8 1001,846 C1014.7,856.2 1029,860.8 1046,867 C1063,873.2 1083.3,878.7 1103,883 C1122.7,887.3 1145.3,891.7 1164,893 C1182.7,894.3 1206.5,891.3 1215,891" fill="none" stroke="#fff" stroke-width="9" stroke-dasharray="4,5"/>
<ellipse cx="1016" cy="698" rx="17" ry="11" fill="#5c5e66" stroke="#9a9ba1" stroke-width="2" transform="rotate(-25 1016 698)"/>
<g transform="matrix(1 0.17 0 1 0 -205.87)">
<path d="M1211,777 L1650,775 Q1685,790 1685,830 L1685,856 Q1680,930 1630,946.6 L1211,946.6 Z" fill="#5d5f67"/>
<path d="M1211,777 L1650,775 Q1672,781 1680,800" fill="none" stroke="#3c3e46" stroke-width="5"/>
<rect x="1211" y="940" width="425" height="6.6" fill="#44464e"/>
<path d="M1213,786 L1250,786 L1250,788 L1213,789.5 Z" fill="#c8c9cd"/>
<rect x="1213" y="801" width="440" height="3.5" fill="#b3b4b9"/>
<path d="M1213,804.5 L1660,804.5 Q1672,815 1675,830 L1675,856 Q1670,915 1640,925 L1213,925 Z" fill="url(#psIn)"/>
<rect x="1213" y="925" width="420" height="3.5" fill="#a4a5ab"/>
<path d="M1213,846 L1290,846 Q1330,838 1400,829 L1400,912 Q1330,905 1290,893 L1213,893 Z" fill="#9a9ca2"/>
<rect x="1400" y="829" width="98" height="83" fill="#d3d4d8"/>
<rect x="1412" y="836" width="80" height="70" fill="#e2e3e6"/>
<path d="M1498,829 L1676,800 Q1686,830 1686,860 Q1684,905 1668,925 L1498,912 Z" fill="url(#psCone)"/>
<line x1="1498" y1="829" x2="1498" y2="912" stroke="#9a9ba0" stroke-width="2"/>
<rect x="1412" y="861.5" width="49" height="3.5" fill="#606268"/>
<line x1="1300" y1="777" x2="1300" y2="801" stroke="#2f3137" stroke-width="2"/>
<line x1="1260" y1="928" x2="1260" y2="946" stroke="#2f3137" stroke-width="2"/>
<line x1="1348" y1="777" x2="1348" y2="801" stroke="#2f3137" stroke-width="2"/>
<line x1="1308" y1="928" x2="1308" y2="946" stroke="#2f3137" stroke-width="2"/>
<line x1="1396" y1="777" x2="1396" y2="801" stroke="#2f3137" stroke-width="2"/>
<line x1="1356" y1="928" x2="1356" y2="946" stroke="#2f3137" stroke-width="2"/>
<line x1="1444" y1="777" x2="1444" y2="801" stroke="#2f3137" stroke-width="2"/>
<line x1="1404" y1="928" x2="1404" y2="946" stroke="#2f3137" stroke-width="2"/>
<line x1="1492" y1="777" x2="1492" y2="801" stroke="#2f3137" stroke-width="2"/>
<line x1="1452" y1="928" x2="1452" y2="946" stroke="#2f3137" stroke-width="2"/>
<line x1="1540" y1="777" x2="1540" y2="801" stroke="#2f3137" stroke-width="2"/>
<line x1="1500" y1="928" x2="1500" y2="946" stroke="#2f3137" stroke-width="2"/>
<line x1="1588" y1="777" x2="1588" y2="801" stroke="#2f3137" stroke-width="2"/>
<line x1="1548" y1="928" x2="1548" y2="946" stroke="#2f3137" stroke-width="2"/>
<line x1="1636" y1="777" x2="1636" y2="801" stroke="#2f3137" stroke-width="2"/>
<line x1="1596" y1="928" x2="1596" y2="946" stroke="#2f3137" stroke-width="2"/>
</g>
<line x1="120.3" y1="522.7" x2="174" y2="439.7" stroke="#000" stroke-width="4.8"/>
<polygon points="184.3,423.7 179.6,445.7 166.2,437" fill="#000"/>
<line x1="432.7" y1="608" x2="436.1" y2="481.5" stroke="#000" stroke-width="4.8"/>
<polygon points="436.6,462.5 444,483.7 428,483.3" fill="#000"/>
<line x1="707.6" y1="602.7" x2="737.4" y2="494.9" stroke="#000" stroke-width="4.8"/>
<polygon points="742.5,476.6 744.6,499 729.2,494.7" fill="#000"/>
<line x1="800.3" y1="767.4" x2="935.6" y2="542.9" stroke="#000" stroke-width="4.8"/>
<polygon points="945.4,526.6 941.4,548.7 927.7,540.5" fill="#000"/>
<line x1="828.5" y1="771.2" x2="1001.3" y2="719.5" stroke="#000" stroke-width="4.8"/>
<polygon points="1019.5,714 1001.7,727.7 997.1,712.4" fill="#000"/>
<line x1="841" y1="821.7" x2="1131.1" y2="849.9" stroke="#000" stroke-width="4.8"/>
<polygon points="1150,851.7 1128.3,857.6 1129.9,841.7" fill="#000"/>
<line x1="1298" y1="998.3" x2="1424.7" y2="913.1" stroke="#000" stroke-width="4.8"/>
<polygon points="1440.5,902.5 1427.5,920.9 1418.6,907.6" fill="#000"/>
<line x1="854.8" y1="907.3" x2="1345.5" y2="900.6" stroke="#555" stroke-width="6.5"/>
<polygon points="1387.5,900 1343.7,913.6 1343.3,887.6" fill="#555"/>
<text x="438.7" y="284.3" font-size="39.3" fill="#000">Detector Solenoid</text>
<text x="44.3" y="556" font-size="35.2" fill="#000">Electromagnetic</text>
<text x="43.1" y="595.6" font-size="35.2" fill="#000">Calorimeter</text>
<text x="387.6" y="651.5" font-size="35.2" fill="#000">Tracker</text>
<text x="663.6" y="642.5" font-size="35.2" fill="#000">Stopping</text>
<text x="663.2" y="681.8" font-size="35.2" fill="#000">Target</text>
<text x="1163.8" y="563.2" font-size="39.5" fill="#000">Transport Solenoid</text>
<text x="677.1" y="809" font-size="35" fill="#000">Collimators</text>
<text x="1323" y="755.7" font-size="39.5" fill="#000">Production Solenoid</text>
<text x="900" y="945" font-size="34.5" fill="#000">Proton</text>
<text x="900" y="984" font-size="34.5" fill="#000">Beam</text>
<text x="1114.4" y="1009" font-size="34.8" fill="#000">Production</text>
<text x="1114.4" y="1048.7" font-size="34.8" fill="#000">Target</text>
</svg></body></html>
